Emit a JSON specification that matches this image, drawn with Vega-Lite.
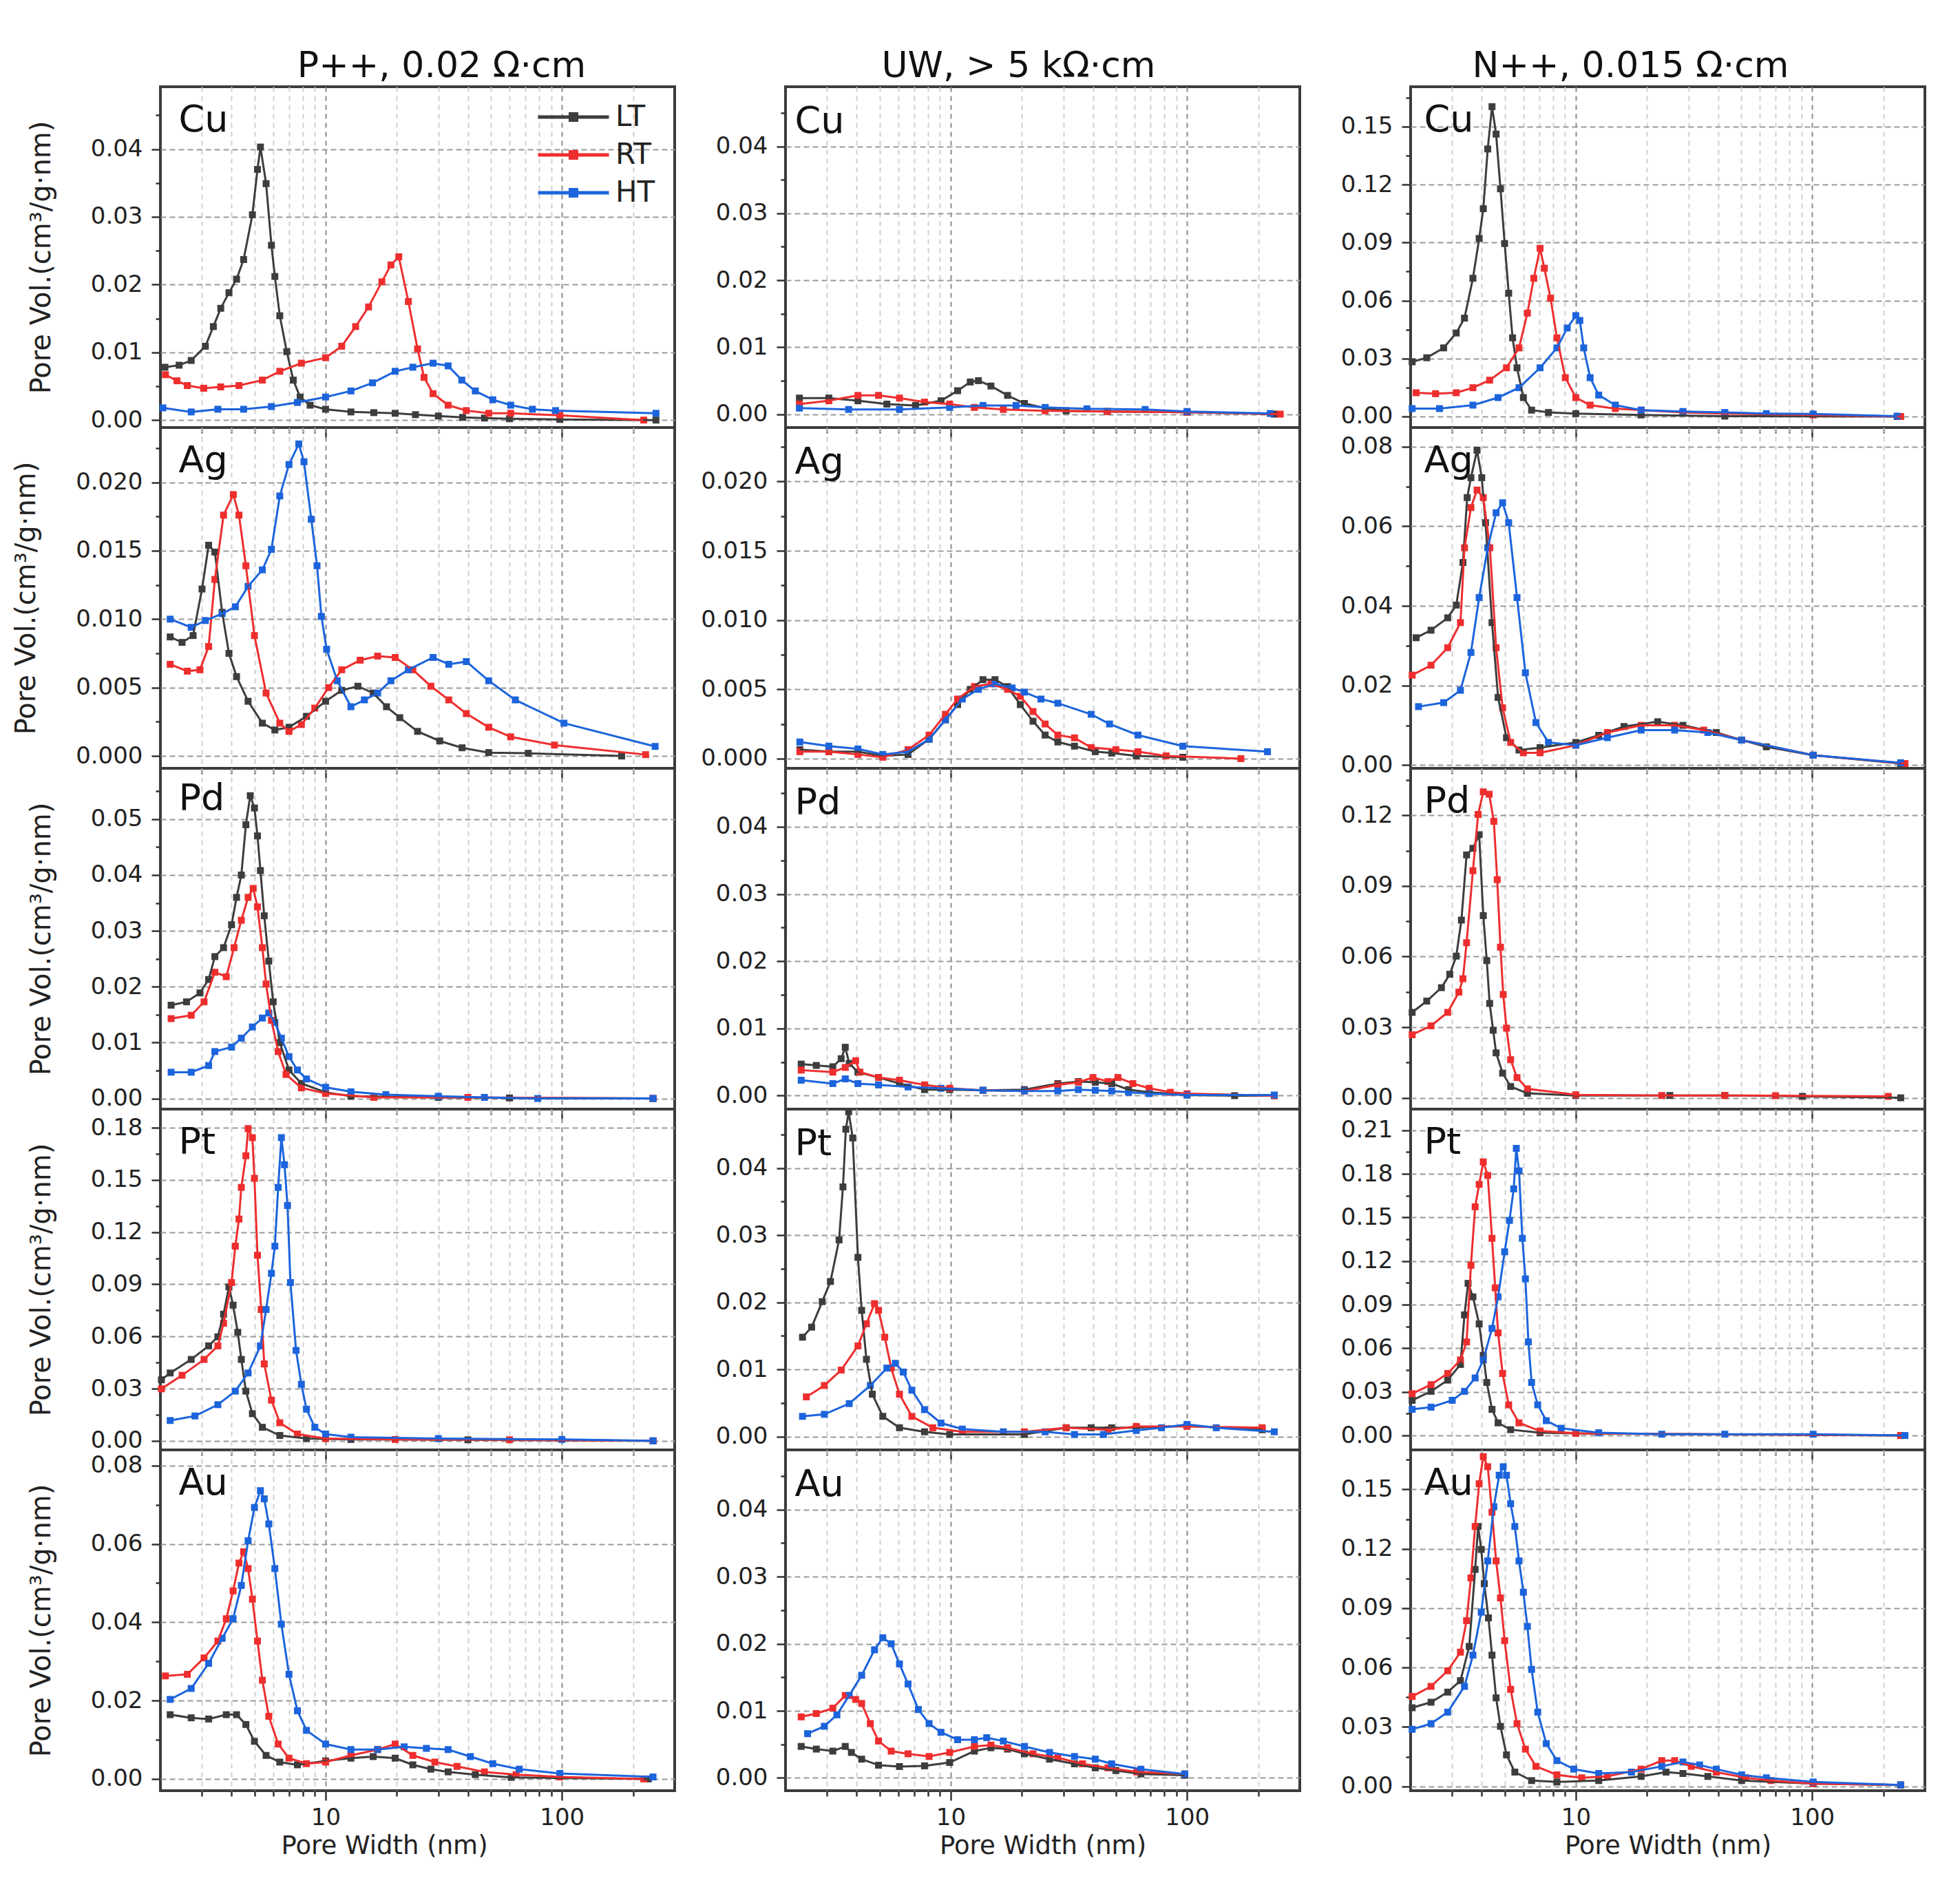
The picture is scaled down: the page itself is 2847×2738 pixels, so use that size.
{
  "$schema": "https://vega.github.io/schema/vega-lite/v6.json",
  "padding": {"left": 16, "top": 68, "right": 5, "bottom": 5},
  "background": "white",
  "config": {
    "font": "DejaVu Sans",
    "view": {"stroke": "#3c3c3c", "strokeWidth": 4},
    "title": {"font": "DejaVu Sans", "fontSize": 52, "fontWeight": "normal", "color": "#111", "offset": 3, "baseline": "alphabetic"},
    "axis": {"domain": false, "grid": true, "tickColor": "#333", "tickWidth": 2.5, "labelFont": "DejaVu Sans", "labelFontSize": 34, "labelColor": "#222", "titleFont": "DejaVu Sans", "titleFontWeight": "normal", "titleColor": "#222"},
    "axisX": {"gridDash": [7, 6], "gridWidth": 2, "labelPadding": 8, "labelFontSize": 34, "titleFontSize": 37, "titlePadding": 6},
    "axisY": {"gridDash": [8, 5], "gridWidth": 2, "gridColor": "#9a9a9a", "labelPadding": 13, "titleFontSize": 40, "titlePadding": 51}
  },
  "datasets": {
    "pts": [
      {"p":"PCu","s":"LT","x":2.09,"y":0.0078},{"p":"PCu","s":"LT","x":2.4,"y":0.0081},{"p":"PCu","s":"LT","x":2.7,"y":0.0088},{"p":"PCu","s":"LT","x":3.1,"y":0.0109},{"p":"PCu","s":"LT","x":3.35,"y":0.0138},{"p":"PCu","s":"LT","x":3.6,"y":0.0165},{"p":"PCu","s":"LT","x":3.9,"y":0.0188},{"p":"PCu","s":"LT","x":4.2,"y":0.0208},{"p":"PCu","s":"LT","x":4.5,"y":0.0237},{"p":"PCu","s":"LT","x":4.9,"y":0.0303},{"p":"PCu","s":"LT","x":5.15,"y":0.037},{"p":"PCu","s":"LT","x":5.3,"y":0.0403},{"p":"PCu","s":"LT","x":5.6,"y":0.0349},{"p":"PCu","s":"LT","x":5.9,"y":0.0258},{"p":"PCu","s":"LT","x":6.1,"y":0.0212},{"p":"PCu","s":"LT","x":6.4,"y":0.0154},{"p":"PCu","s":"LT","x":6.85,"y":0.0101},{"p":"PCu","s":"LT","x":7.3,"y":0.0059},{"p":"PCu","s":"LT","x":7.8,"y":0.0034},{"p":"PCu","s":"LT","x":8.6,"y":0.0022},{"p":"PCu","s":"LT","x":10,"y":0.0016},{"p":"PCu","s":"LT","x":12.8,"y":0.0012},{"p":"PCu","s":"LT","x":16,"y":0.0011},{"p":"PCu","s":"LT","x":19.7,"y":0.001},{"p":"PCu","s":"LT","x":24,"y":0.0008},{"p":"PCu","s":"LT","x":30,"y":0.0006},{"p":"PCu","s":"LT","x":38,"y":0.0004},{"p":"PCu","s":"LT","x":47,"y":0.0003},{"p":"PCu","s":"LT","x":60,"y":0.0002},{"p":"PCu","s":"LT","x":98,"y":0.0001},{"p":"PCu","s":"LT","x":250,"y":0},
      {"p":"PCu","s":"RT","x":2.1,"y":0.0067},{"p":"PCu","s":"RT","x":2.35,"y":0.0058},{"p":"PCu","s":"RT","x":2.6,"y":0.0051},{"p":"PCu","s":"RT","x":3.05,"y":0.0047},{"p":"PCu","s":"RT","x":3.6,"y":0.0049},{"p":"PCu","s":"RT","x":4.3,"y":0.0051},{"p":"PCu","s":"RT","x":5.4,"y":0.0059},{"p":"PCu","s":"RT","x":6.4,"y":0.0072},{"p":"PCu","s":"RT","x":7.9,"y":0.0084},{"p":"PCu","s":"RT","x":10,"y":0.0092},{"p":"PCu","s":"RT","x":11.7,"y":0.0109},{"p":"PCu","s":"RT","x":13.4,"y":0.0138},{"p":"PCu","s":"RT","x":15.2,"y":0.0167},{"p":"PCu","s":"RT","x":17.3,"y":0.0204},{"p":"PCu","s":"RT","x":18.9,"y":0.0229},{"p":"PCu","s":"RT","x":20.4,"y":0.0241},{"p":"PCu","s":"RT","x":22.4,"y":0.0175},{"p":"PCu","s":"RT","x":24.5,"y":0.0105},{"p":"PCu","s":"RT","x":26.1,"y":0.0063},{"p":"PCu","s":"RT","x":28.5,"y":0.0039},{"p":"PCu","s":"RT","x":33,"y":0.0022},{"p":"PCu","s":"RT","x":39.4,"y":0.0014},{"p":"PCu","s":"RT","x":49,"y":0.001},{"p":"PCu","s":"RT","x":60.7,"y":0.001},{"p":"PCu","s":"RT","x":98,"y":0.0007},{"p":"PCu","s":"RT","x":222,"y":0},
      {"p":"PCu","s":"HT","x":2.05,"y":0.0018},{"p":"PCu","s":"HT","x":2.7,"y":0.0012},{"p":"PCu","s":"HT","x":3.5,"y":0.0016},{"p":"PCu","s":"HT","x":4.5,"y":0.0016},{"p":"PCu","s":"HT","x":5.9,"y":0.002},{"p":"PCu","s":"HT","x":7.6,"y":0.0026},{"p":"PCu","s":"HT","x":10,"y":0.0034},{"p":"PCu","s":"HT","x":12.8,"y":0.0043},{"p":"PCu","s":"HT","x":15.8,"y":0.0055},{"p":"PCu","s":"HT","x":19.7,"y":0.0072},{"p":"PCu","s":"HT","x":23.4,"y":0.0078},{"p":"PCu","s":"HT","x":28.5,"y":0.0084},{"p":"PCu","s":"HT","x":33,"y":0.008},{"p":"PCu","s":"HT","x":37.7,"y":0.0059},{"p":"PCu","s":"HT","x":43,"y":0.0043},{"p":"PCu","s":"HT","x":51,"y":0.003},{"p":"PCu","s":"HT","x":60.7,"y":0.0022},{"p":"PCu","s":"HT","x":75,"y":0.0016},{"p":"PCu","s":"HT","x":94,"y":0.0014},{"p":"PCu","s":"HT","x":250,"y":0.001},

      {"p":"PAg","s":"LT","x":2.2,"y":0.0087},{"p":"PAg","s":"LT","x":2.47,"y":0.0083},{"p":"PAg","s":"LT","x":2.75,"y":0.0088},{"p":"PAg","s":"LT","x":3.0,"y":0.0122},{"p":"PAg","s":"LT","x":3.2,"y":0.0154},{"p":"PAg","s":"LT","x":3.4,"y":0.0149},{"p":"PAg","s":"LT","x":3.65,"y":0.0105},{"p":"PAg","s":"LT","x":3.9,"y":0.0075},{"p":"PAg","s":"LT","x":4.2,"y":0.0058},{"p":"PAg","s":"LT","x":4.7,"y":0.004},{"p":"PAg","s":"LT","x":5.4,"y":0.0024},{"p":"PAg","s":"LT","x":6.1,"y":0.0019},{"p":"PAg","s":"LT","x":7.0,"y":0.0021},{"p":"PAg","s":"LT","x":8.3,"y":0.0029},{"p":"PAg","s":"LT","x":10,"y":0.004},{"p":"PAg","s":"LT","x":11.7,"y":0.0048},{"p":"PAg","s":"LT","x":13.7,"y":0.0051},{"p":"PAg","s":"LT","x":15.9,"y":0.0046},{"p":"PAg","s":"LT","x":18.1,"y":0.0036},{"p":"PAg","s":"LT","x":20.6,"y":0.0028},{"p":"PAg","s":"LT","x":24.5,"y":0.0018},{"p":"PAg","s":"LT","x":30.4,"y":0.0011},{"p":"PAg","s":"LT","x":37.8,"y":0.0006},{"p":"PAg","s":"LT","x":49,"y":0.00025},{"p":"PAg","s":"LT","x":72,"y":0.0002},{"p":"PAg","s":"LT","x":179,"y":0},
      {"p":"PAg","s":"RT","x":2.2,"y":0.0067},{"p":"PAg","s":"RT","x":2.6,"y":0.0062},{"p":"PAg","s":"RT","x":2.94,"y":0.0063},{"p":"PAg","s":"RT","x":3.2,"y":0.008},{"p":"PAg","s":"RT","x":3.4,"y":0.0129},{"p":"PAg","s":"RT","x":3.7,"y":0.0176},{"p":"PAg","s":"RT","x":4.07,"y":0.0191},{"p":"PAg","s":"RT","x":4.3,"y":0.0176},{"p":"PAg","s":"RT","x":4.6,"y":0.0139},{"p":"PAg","s":"RT","x":5.0,"y":0.0088},{"p":"PAg","s":"RT","x":5.6,"y":0.0046},{"p":"PAg","s":"RT","x":6.4,"y":0.0024},{"p":"PAg","s":"RT","x":7.0,"y":0.0018},{"p":"PAg","s":"RT","x":7.9,"y":0.0023},{"p":"PAg","s":"RT","x":9.0,"y":0.0035},{"p":"PAg","s":"RT","x":10.3,"y":0.005},{"p":"PAg","s":"RT","x":11.7,"y":0.0063},{"p":"PAg","s":"RT","x":14,"y":0.007},{"p":"PAg","s":"RT","x":16.6,"y":0.0073},{"p":"PAg","s":"RT","x":19.7,"y":0.0072},{"p":"PAg","s":"RT","x":23.4,"y":0.0063},{"p":"PAg","s":"RT","x":27.9,"y":0.0051},{"p":"PAg","s":"RT","x":33.2,"y":0.0041},{"p":"PAg","s":"RT","x":39.4,"y":0.0031},{"p":"PAg","s":"RT","x":49,"y":0.0021},{"p":"PAg","s":"RT","x":60.7,"y":0.0014},{"p":"PAg","s":"RT","x":93,"y":0.0008},{"p":"PAg","s":"RT","x":226,"y":0.0001},
      {"p":"PAg","s":"HT","x":2.2,"y":0.01},{"p":"PAg","s":"HT","x":2.7,"y":0.0094},{"p":"PAg","s":"HT","x":3.1,"y":0.0099},{"p":"PAg","s":"HT","x":3.65,"y":0.0104},{"p":"PAg","s":"HT","x":4.15,"y":0.0109},{"p":"PAg","s":"HT","x":4.7,"y":0.0124},{"p":"PAg","s":"HT","x":5.4,"y":0.0136},{"p":"PAg","s":"HT","x":5.9,"y":0.0151},{"p":"PAg","s":"HT","x":6.4,"y":0.019},{"p":"PAg","s":"HT","x":7.0,"y":0.0213},{"p":"PAg","s":"HT","x":7.7,"y":0.0228},{"p":"PAg","s":"HT","x":8.1,"y":0.0215},{"p":"PAg","s":"HT","x":8.7,"y":0.0173},{"p":"PAg","s":"HT","x":9.2,"y":0.0139},{"p":"PAg","s":"HT","x":9.6,"y":0.0102},{"p":"PAg","s":"HT","x":10.1,"y":0.0078},{"p":"PAg","s":"HT","x":11.2,"y":0.0055},{"p":"PAg","s":"HT","x":12.8,"y":0.0036},{"p":"PAg","s":"HT","x":14.6,"y":0.0041},{"p":"PAg","s":"HT","x":16.6,"y":0.0046},{"p":"PAg","s":"HT","x":18.9,"y":0.0055},{"p":"PAg","s":"HT","x":22.4,"y":0.0063},{"p":"PAg","s":"HT","x":28.5,"y":0.0072},{"p":"PAg","s":"HT","x":33.2,"y":0.0067},{"p":"PAg","s":"HT","x":39.4,"y":0.0069},{"p":"PAg","s":"HT","x":49,"y":0.0055},{"p":"PAg","s":"HT","x":63.5,"y":0.0041},{"p":"PAg","s":"HT","x":102,"y":0.0024},{"p":"PAg","s":"HT","x":248,"y":0.0007},

      {"p":"PPd","s":"LT","x":2.22,"y":0.0167},{"p":"PPd","s":"LT","x":2.58,"y":0.0173},{"p":"PPd","s":"LT","x":2.94,"y":0.0189},{"p":"PPd","s":"LT","x":3.2,"y":0.0213},{"p":"PPd","s":"LT","x":3.4,"y":0.0254},{"p":"PPd","s":"LT","x":3.7,"y":0.027},{"p":"PPd","s":"LT","x":4.0,"y":0.0311},{"p":"PPd","s":"LT","x":4.2,"y":0.036},{"p":"PPd","s":"LT","x":4.4,"y":0.04},{"p":"PPd","s":"LT","x":4.6,"y":0.049},{"p":"PPd","s":"LT","x":4.8,"y":0.0542},{"p":"PPd","s":"LT","x":5.0,"y":0.052},{"p":"PPd","s":"LT","x":5.15,"y":0.047},{"p":"PPd","s":"LT","x":5.3,"y":0.0408},{"p":"PPd","s":"LT","x":5.5,"y":0.0327},{"p":"PPd","s":"LT","x":5.75,"y":0.0246},{"p":"PPd","s":"LT","x":6.0,"y":0.0173},{"p":"PPd","s":"LT","x":6.4,"y":0.01},{"p":"PPd","s":"LT","x":7.0,"y":0.0051},{"p":"PPd","s":"LT","x":7.9,"y":0.0027},{"p":"PPd","s":"LT","x":10,"y":0.0011},{"p":"PPd","s":"LT","x":12.8,"y":0.0004},{"p":"PPd","s":"LT","x":30,"y":0.0002},{"p":"PPd","s":"LT","x":60,"y":0.0001},{"p":"PPd","s":"LT","x":243,"y":0},
      {"p":"PPd","s":"RT","x":2.22,"y":0.0143},{"p":"PPd","s":"RT","x":2.7,"y":0.0149},{"p":"PPd","s":"RT","x":3.06,"y":0.0173},{"p":"PPd","s":"RT","x":3.4,"y":0.0226},{"p":"PPd","s":"RT","x":3.8,"y":0.0218},{"p":"PPd","s":"RT","x":4.1,"y":0.027},{"p":"PPd","s":"RT","x":4.4,"y":0.0319},{"p":"PPd","s":"RT","x":4.7,"y":0.036},{"p":"PPd","s":"RT","x":4.94,"y":0.0376},{"p":"PPd","s":"RT","x":5.15,"y":0.0343},{"p":"PPd","s":"RT","x":5.4,"y":0.027},{"p":"PPd","s":"RT","x":5.6,"y":0.0205},{"p":"PPd","s":"RT","x":5.9,"y":0.014},{"p":"PPd","s":"RT","x":6.3,"y":0.0084},{"p":"PPd","s":"RT","x":6.8,"y":0.0043},{"p":"PPd","s":"RT","x":7.9,"y":0.0019},{"p":"PPd","s":"RT","x":10,"y":0.0009},{"p":"PPd","s":"RT","x":16,"y":0.0002},{"p":"PPd","s":"RT","x":40,"y":0.0002},{"p":"PPd","s":"RT","x":243,"y":0},
      {"p":"PPd","s":"HT","x":2.22,"y":0.0047},{"p":"PPd","s":"HT","x":2.7,"y":0.0047},{"p":"PPd","s":"HT","x":3.2,"y":0.0059},{"p":"PPd","s":"HT","x":3.4,"y":0.0084},{"p":"PPd","s":"HT","x":4.0,"y":0.0092},{"p":"PPd","s":"HT","x":4.4,"y":0.0108},{"p":"PPd","s":"HT","x":4.9,"y":0.0128},{"p":"PPd","s":"HT","x":5.4,"y":0.0144},{"p":"PPd","s":"HT","x":5.75,"y":0.0153},{"p":"PPd","s":"HT","x":6.1,"y":0.0136},{"p":"PPd","s":"HT","x":6.5,"y":0.0108},{"p":"PPd","s":"HT","x":7.0,"y":0.0075},{"p":"PPd","s":"HT","x":7.6,"y":0.0051},{"p":"PPd","s":"HT","x":8.3,"y":0.0035},{"p":"PPd","s":"HT","x":10,"y":0.002},{"p":"PPd","s":"HT","x":12.8,"y":0.0012},{"p":"PPd","s":"HT","x":18,"y":0.0007},{"p":"PPd","s":"HT","x":30,"y":0.0004},{"p":"PPd","s":"HT","x":47,"y":0.0002},{"p":"PPd","s":"HT","x":79,"y":0},{"p":"PPd","s":"HT","x":243,"y":0},

      {"p":"PPt","s":"LT","x":2.02,"y":0.0351},{"p":"PPt","s":"LT","x":2.2,"y":0.039},{"p":"PPt","s":"LT","x":2.7,"y":0.0468},{"p":"PPt","s":"LT","x":3.2,"y":0.0546},{"p":"PPt","s":"LT","x":3.5,"y":0.0598},{"p":"PPt","s":"LT","x":3.7,"y":0.0728},{"p":"PPt","s":"LT","x":3.9,"y":0.0885},{"p":"PPt","s":"LT","x":4.06,"y":0.078},{"p":"PPt","s":"LT","x":4.25,"y":0.0624},{"p":"PPt","s":"LT","x":4.4,"y":0.0468},{"p":"PPt","s":"LT","x":4.6,"y":0.0286},{"p":"PPt","s":"LT","x":4.9,"y":0.0156},{"p":"PPt","s":"LT","x":5.4,"y":0.0078},{"p":"PPt","s":"LT","x":6.4,"y":0.0031},{"p":"PPt","s":"LT","x":8.3,"y":0.0013},{"p":"PPt","s":"LT","x":12.8,"y":0.0008},{"p":"PPt","s":"LT","x":40,"y":0.0006},{"p":"PPt","s":"LT","x":243,"y":0},
      {"p":"PPt","s":"RT","x":2.02,"y":0.0299},{"p":"PPt","s":"RT","x":2.47,"y":0.0377},{"p":"PPt","s":"RT","x":3.06,"y":0.0468},{"p":"PPt","s":"RT","x":3.5,"y":0.0546},{"p":"PPt","s":"RT","x":3.7,"y":0.0676},{"p":"PPt","s":"RT","x":4.0,"y":0.091},{"p":"PPt","s":"RT","x":4.15,"y":0.1119},{"p":"PPt","s":"RT","x":4.3,"y":0.1275},{"p":"PPt","s":"RT","x":4.4,"y":0.1457},{"p":"PPt","s":"RT","x":4.6,"y":0.1639},{"p":"PPt","s":"RT","x":4.7,"y":0.1795},{"p":"PPt","s":"RT","x":4.9,"y":0.1743},{"p":"PPt","s":"RT","x":5.0,"y":0.1509},{"p":"PPt","s":"RT","x":5.15,"y":0.1067},{"p":"PPt","s":"RT","x":5.34,"y":0.0755},{"p":"PPt","s":"RT","x":5.5,"y":0.0442},{"p":"PPt","s":"RT","x":5.9,"y":0.0234},{"p":"PPt","s":"RT","x":6.4,"y":0.0104},{"p":"PPt","s":"RT","x":7.6,"y":0.0039},{"p":"PPt","s":"RT","x":10,"y":0.0013},{"p":"PPt","s":"RT","x":19.7,"y":0.0008},{"p":"PPt","s":"RT","x":60,"y":0.0006},{"p":"PPt","s":"RT","x":243,"y":0},
      {"p":"PPt","s":"HT","x":2.2,"y":0.0117},{"p":"PPt","s":"HT","x":2.8,"y":0.0143},{"p":"PPt","s":"HT","x":3.5,"y":0.0208},{"p":"PPt","s":"HT","x":4.15,"y":0.0286},{"p":"PPt","s":"HT","x":4.7,"y":0.039},{"p":"PPt","s":"HT","x":5.3,"y":0.0546},{"p":"PPt","s":"HT","x":5.6,"y":0.0755},{"p":"PPt","s":"HT","x":5.9,"y":0.0963},{"p":"PPt","s":"HT","x":6.1,"y":0.1119},{"p":"PPt","s":"HT","x":6.3,"y":0.1457},{"p":"PPt","s":"HT","x":6.5,"y":0.1743},{"p":"PPt","s":"HT","x":6.7,"y":0.1587},{"p":"PPt","s":"HT","x":6.9,"y":0.1353},{"p":"PPt","s":"HT","x":7.1,"y":0.091},{"p":"PPt","s":"HT","x":7.5,"y":0.052},{"p":"PPt","s":"HT","x":7.9,"y":0.0325},{"p":"PPt","s":"HT","x":8.3,"y":0.0182},{"p":"PPt","s":"HT","x":9.0,"y":0.0078},{"p":"PPt","s":"HT","x":10,"y":0.0039},{"p":"PPt","s":"HT","x":12.8,"y":0.0021},{"p":"PPt","s":"HT","x":30,"y":0.0013},{"p":"PPt","s":"HT","x":100,"y":0.0008},{"p":"PPt","s":"HT","x":243,"y":0},

      {"p":"PAu","s":"LT","x":2.2,"y":0.0164},{"p":"PAu","s":"LT","x":2.7,"y":0.0156},{"p":"PAu","s":"LT","x":3.2,"y":0.0153},{"p":"PAu","s":"LT","x":3.8,"y":0.0164},{"p":"PAu","s":"LT","x":4.2,"y":0.0164},{"p":"PAu","s":"LT","x":4.6,"y":0.0139},{"p":"PAu","s":"LT","x":5.0,"y":0.0096},{"p":"PAu","s":"LT","x":5.6,"y":0.006},{"p":"PAu","s":"LT","x":6.4,"y":0.0043},{"p":"PAu","s":"LT","x":7.6,"y":0.0036},{"p":"PAu","s":"LT","x":10,"y":0.0046},{"p":"PAu","s":"LT","x":12.8,"y":0.0053},{"p":"PAu","s":"LT","x":15.9,"y":0.0057},{"p":"PAu","s":"LT","x":19.7,"y":0.0053},{"p":"PAu","s":"LT","x":23.4,"y":0.0036},{"p":"PAu","s":"LT","x":27.9,"y":0.0025},{"p":"PAu","s":"LT","x":33,"y":0.0018},{"p":"PAu","s":"LT","x":43,"y":0.0011},{"p":"PAu","s":"LT","x":61,"y":0.0004},{"p":"PAu","s":"LT","x":232,"y":0},
      {"p":"PAu","s":"RT","x":2.1,"y":0.0263},{"p":"PAu","s":"RT","x":2.6,"y":0.0267},{"p":"PAu","s":"RT","x":3.06,"y":0.0309},{"p":"PAu","s":"RT","x":3.5,"y":0.0352},{"p":"PAu","s":"RT","x":3.8,"y":0.0409},{"p":"PAu","s":"RT","x":4.06,"y":0.048},{"p":"PAu","s":"RT","x":4.3,"y":0.0551},{"p":"PAu","s":"RT","x":4.5,"y":0.058},{"p":"PAu","s":"RT","x":4.7,"y":0.0537},{"p":"PAu","s":"RT","x":4.9,"y":0.0459},{"p":"PAu","s":"RT","x":5.15,"y":0.0352},{"p":"PAu","s":"RT","x":5.4,"y":0.0252},{"p":"PAu","s":"RT","x":5.75,"y":0.016},{"p":"PAu","s":"RT","x":6.3,"y":0.0089},{"p":"PAu","s":"RT","x":7.0,"y":0.0053},{"p":"PAu","s":"RT","x":8.3,"y":0.0039},{"p":"PAu","s":"RT","x":10,"y":0.0043},{"p":"PAu","s":"RT","x":12.8,"y":0.006},{"p":"PAu","s":"RT","x":16.6,"y":0.0075},{"p":"PAu","s":"RT","x":19.7,"y":0.0089},{"p":"PAu","s":"RT","x":23.4,"y":0.006},{"p":"PAu","s":"RT","x":29,"y":0.0043},{"p":"PAu","s":"RT","x":36,"y":0.0032},{"p":"PAu","s":"RT","x":47,"y":0.0018},{"p":"PAu","s":"RT","x":64,"y":0.0011},{"p":"PAu","s":"RT","x":98,"y":0.0005},{"p":"PAu","s":"RT","x":222,"y":0},
      {"p":"PAu","s":"HT","x":2.2,"y":0.0203},{"p":"PAu","s":"HT","x":2.7,"y":0.0231},{"p":"PAu","s":"HT","x":3.2,"y":0.0295},{"p":"PAu","s":"HT","x":3.65,"y":0.0359},{"p":"PAu","s":"HT","x":4.06,"y":0.0409},{"p":"PAu","s":"HT","x":4.4,"y":0.0494},{"p":"PAu","s":"HT","x":4.7,"y":0.0608},{"p":"PAu","s":"HT","x":5.0,"y":0.0693},{"p":"PAu","s":"HT","x":5.3,"y":0.0736},{"p":"PAu","s":"HT","x":5.5,"y":0.0715},{"p":"PAu","s":"HT","x":5.75,"y":0.0651},{"p":"PAu","s":"HT","x":6.1,"y":0.0537},{"p":"PAu","s":"HT","x":6.5,"y":0.0395},{"p":"PAu","s":"HT","x":7.0,"y":0.0267},{"p":"PAu","s":"HT","x":7.6,"y":0.0174},{"p":"PAu","s":"HT","x":8.3,"y":0.0124},{"p":"PAu","s":"HT","x":10,"y":0.0089},{"p":"PAu","s":"HT","x":12.8,"y":0.0075},{"p":"PAu","s":"HT","x":16.6,"y":0.0075},{"p":"PAu","s":"HT","x":21.5,"y":0.0082},{"p":"PAu","s":"HT","x":26.7,"y":0.0078},{"p":"PAu","s":"HT","x":33,"y":0.0075},{"p":"PAu","s":"HT","x":41,"y":0.0057},{"p":"PAu","s":"HT","x":51,"y":0.0039},{"p":"PAu","s":"HT","x":66,"y":0.0025},{"p":"PAu","s":"HT","x":98,"y":0.0014},{"p":"PAu","s":"HT","x":243,"y":0.0005},

      {"p":"UCu","s":"LT","x":2.29,"y":0.0024},{"p":"UCu","s":"LT","x":3.05,"y":0.0024},{"p":"UCu","s":"LT","x":4.05,"y":0.002},{"p":"UCu","s":"LT","x":5.37,"y":0.0015},{"p":"UCu","s":"LT","x":7.1,"y":0.0013},{"p":"UCu","s":"LT","x":9.1,"y":0.002},{"p":"UCu","s":"LT","x":10.7,"y":0.0035},{"p":"UCu","s":"LT","x":12.1,"y":0.0048},{"p":"UCu","s":"LT","x":13.1,"y":0.005},{"p":"UCu","s":"LT","x":14.8,"y":0.0042},{"p":"UCu","s":"LT","x":17.4,"y":0.0028},{"p":"UCu","s":"LT","x":20.5,"y":0.0016},{"p":"UCu","s":"LT","x":25.1,"y":0.0009},{"p":"UCu","s":"LT","x":30.8,"y":0.0005},{"p":"UCu","s":"LT","x":46,"y":0.0004},{"p":"UCu","s":"LT","x":100,"y":0.0003},{"p":"UCu","s":"LT","x":234,"y":0},
      {"p":"UCu","s":"RT","x":2.29,"y":0.0015},{"p":"UCu","s":"RT","x":3.05,"y":0.002},{"p":"UCu","s":"RT","x":4.05,"y":0.0028},{"p":"UCu","s":"RT","x":4.95,"y":0.0028},{"p":"UCu","s":"RT","x":6.07,"y":0.0024},{"p":"UCu","s":"RT","x":7.75,"y":0.0018},{"p":"UCu","s":"RT","x":9.9,"y":0.0015},{"p":"UCu","s":"RT","x":12.6,"y":0.001},{"p":"UCu","s":"RT","x":16.7,"y":0.0007},{"p":"UCu","s":"RT","x":25.1,"y":0.0005},{"p":"UCu","s":"RT","x":46,"y":0.0004},{"p":"UCu","s":"RT","x":100,"y":0.0003},{"p":"UCu","s":"RT","x":248,"y":0},
      {"p":"UCu","s":"HT","x":2.29,"y":0.0009},{"p":"UCu","s":"HT","x":3.7,"y":0.0007},{"p":"UCu","s":"HT","x":6.07,"y":0.0007},{"p":"UCu","s":"HT","x":9.9,"y":0.001},{"p":"UCu","s":"HT","x":13.7,"y":0.0013},{"p":"UCu","s":"HT","x":18.9,"y":0.0013},{"p":"UCu","s":"HT","x":25.1,"y":0.001},{"p":"UCu","s":"HT","x":37.7,"y":0.0008},{"p":"UCu","s":"HT","x":66.5,"y":0.0007},{"p":"UCu","s":"HT","x":100,"y":0.0004},{"p":"UCu","s":"HT","x":225,"y":0.0001},

      {"p":"UAg","s":"LT","x":2.3,"y":0.00065},{"p":"UAg","s":"LT","x":3.05,"y":0.0005},{"p":"UAg","s":"LT","x":4.05,"y":0.0005},{"p":"UAg","s":"LT","x":5.16,"y":0.0002},{"p":"UAg","s":"LT","x":6.6,"y":0.0003},{"p":"UAg","s":"LT","x":8.1,"y":0.0014},{"p":"UAg","s":"LT","x":9.5,"y":0.0028},{"p":"UAg","s":"LT","x":10.7,"y":0.0039},{"p":"UAg","s":"LT","x":12.1,"y":0.005},{"p":"UAg","s":"LT","x":13.7,"y":0.0057},{"p":"UAg","s":"LT","x":15.4,"y":0.0057},{"p":"UAg","s":"LT","x":17.4,"y":0.0052},{"p":"UAg","s":"LT","x":19.7,"y":0.0039},{"p":"UAg","s":"LT","x":22.3,"y":0.0027},{"p":"UAg","s":"LT","x":25.1,"y":0.0017},{"p":"UAg","s":"LT","x":28.4,"y":0.0012},{"p":"UAg","s":"LT","x":33.4,"y":0.0009},{"p":"UAg","s":"LT","x":40.9,"y":0.0005},{"p":"UAg","s":"LT","x":48,"y":0.0004},{"p":"UAg","s":"LT","x":61,"y":0.0002},{"p":"UAg","s":"LT","x":96,"y":0.0001},
      {"p":"UAg","s":"RT","x":2.3,"y":0.0005},{"p":"UAg","s":"RT","x":3.05,"y":0.0005},{"p":"UAg","s":"RT","x":4.05,"y":0.0003},{"p":"UAg","s":"RT","x":5.16,"y":0.0001},{"p":"UAg","s":"RT","x":6.6,"y":0.00065},{"p":"UAg","s":"RT","x":8.1,"y":0.0017},{"p":"UAg","s":"RT","x":9.5,"y":0.0032},{"p":"UAg","s":"RT","x":10.7,"y":0.0043},{"p":"UAg","s":"RT","x":12.6,"y":0.0052},{"p":"UAg","s":"RT","x":14.8,"y":0.0054},{"p":"UAg","s":"RT","x":17.4,"y":0.005},{"p":"UAg","s":"RT","x":19.7,"y":0.0045},{"p":"UAg","s":"RT","x":22.3,"y":0.0034},{"p":"UAg","s":"RT","x":25.1,"y":0.0025},{"p":"UAg","s":"RT","x":28.4,"y":0.0017},{"p":"UAg","s":"RT","x":33.4,"y":0.0015},{"p":"UAg","s":"RT","x":39.3,"y":0.0008},{"p":"UAg","s":"RT","x":50,"y":0.00065},{"p":"UAg","s":"RT","x":62,"y":0.0005},{"p":"UAg","s":"RT","x":81.6,"y":0.0002},{"p":"UAg","s":"RT","x":169,"y":0},
      {"p":"UAg","s":"HT","x":2.3,"y":0.0012},{"p":"UAg","s":"HT","x":3.05,"y":0.0009},{"p":"UAg","s":"HT","x":4.05,"y":0.0007},{"p":"UAg","s":"HT","x":5.16,"y":0.0003},{"p":"UAg","s":"HT","x":6.6,"y":0.0005},{"p":"UAg","s":"HT","x":8.1,"y":0.0014},{"p":"UAg","s":"HT","x":9.5,"y":0.0028},{"p":"UAg","s":"HT","x":11.2,"y":0.0043},{"p":"UAg","s":"HT","x":13.1,"y":0.005},{"p":"UAg","s":"HT","x":15.4,"y":0.0054},{"p":"UAg","s":"HT","x":18.2,"y":0.0051},{"p":"UAg","s":"HT","x":20.5,"y":0.0048},{"p":"UAg","s":"HT","x":24.1,"y":0.0043},{"p":"UAg","s":"HT","x":28.4,"y":0.004},{"p":"UAg","s":"HT","x":39.3,"y":0.0032},{"p":"UAg","s":"HT","x":47,"y":0.0025},{"p":"UAg","s":"HT","x":62,"y":0.0017},{"p":"UAg","s":"HT","x":96,"y":0.0009},{"p":"UAg","s":"HT","x":219,"y":0.0005},

      {"p":"UPd","s":"LT","x":2.33,"y":0.0047},{"p":"UPd","s":"LT","x":2.7,"y":0.0045},{"p":"UPd","s":"LT","x":3.17,"y":0.0043},{"p":"UPd","s":"LT","x":3.44,"y":0.0055},{"p":"UPd","s":"LT","x":3.58,"y":0.0072},{"p":"UPd","s":"LT","x":3.72,"y":0.0048},{"p":"UPd","s":"LT","x":4.05,"y":0.0035},{"p":"UPd","s":"LT","x":4.95,"y":0.0027},{"p":"UPd","s":"LT","x":6.07,"y":0.0018},{"p":"UPd","s":"LT","x":7.75,"y":0.0009},{"p":"UPd","s":"LT","x":9.9,"y":0.0009},{"p":"UPd","s":"LT","x":13.7,"y":0.0008},{"p":"UPd","s":"LT","x":20.5,"y":0.0009},{"p":"UPd","s":"LT","x":28.4,"y":0.0018},{"p":"UPd","s":"LT","x":34.7,"y":0.0021},{"p":"UPd","s":"LT","x":40.9,"y":0.002},{"p":"UPd","s":"LT","x":48,"y":0.0018},{"p":"UPd","s":"LT","x":56.6,"y":0.0009},{"p":"UPd","s":"LT","x":69.2,"y":0.0005},{"p":"UPd","s":"LT","x":100,"y":0.0001},{"p":"UPd","s":"LT","x":159,"y":0},{"p":"UPd","s":"LT","x":234,"y":0},
      {"p":"UPd","s":"RT","x":2.33,"y":0.0038},{"p":"UPd","s":"RT","x":3.17,"y":0.0035},{"p":"UPd","s":"RT","x":3.58,"y":0.0042},{"p":"UPd","s":"RT","x":3.96,"y":0.0052},{"p":"UPd","s":"RT","x":4.13,"y":0.0035},{"p":"UPd","s":"RT","x":4.95,"y":0.0027},{"p":"UPd","s":"RT","x":6.07,"y":0.0023},{"p":"UPd","s":"RT","x":7.75,"y":0.0016},{"p":"UPd","s":"RT","x":9.9,"y":0.0011},{"p":"UPd","s":"RT","x":13.7,"y":0.0008},{"p":"UPd","s":"RT","x":20.5,"y":0.0007},{"p":"UPd","s":"RT","x":28.4,"y":0.0016},{"p":"UPd","s":"RT","x":34.7,"y":0.002},{"p":"UPd","s":"RT","x":40,"y":0.0027},{"p":"UPd","s":"RT","x":46.3,"y":0.0021},{"p":"UPd","s":"RT","x":51,"y":0.0027},{"p":"UPd","s":"RT","x":59,"y":0.0018},{"p":"UPd","s":"RT","x":69.2,"y":0.0011},{"p":"UPd","s":"RT","x":85,"y":0.0005},{"p":"UPd","s":"RT","x":100,"y":0.0003},{"p":"UPd","s":"RT","x":234,"y":0},
      {"p":"UPd","s":"HT","x":2.33,"y":0.0023},{"p":"UPd","s":"HT","x":3.17,"y":0.0018},{"p":"UPd","s":"HT","x":3.58,"y":0.0025},{"p":"UPd","s":"HT","x":4.05,"y":0.0018},{"p":"UPd","s":"HT","x":4.95,"y":0.0016},{"p":"UPd","s":"HT","x":6.6,"y":0.0013},{"p":"UPd","s":"HT","x":9.1,"y":0.0011},{"p":"UPd","s":"HT","x":13.7,"y":0.0008},{"p":"UPd","s":"HT","x":20.5,"y":0.0007},{"p":"UPd","s":"HT","x":28.4,"y":0.0007},{"p":"UPd","s":"HT","x":34.7,"y":0.0009},{"p":"UPd","s":"HT","x":40.9,"y":0.0008},{"p":"UPd","s":"HT","x":48,"y":0.0007},{"p":"UPd","s":"HT","x":56.6,"y":0.0005},{"p":"UPd","s":"HT","x":69.2,"y":0.0003},{"p":"UPd","s":"HT","x":100,"y":0.0001},{"p":"UPd","s":"HT","x":234,"y":0.0001},

      {"p":"UPt","s":"LT","x":2.36,"y":0.0148},{"p":"UPt","s":"LT","x":2.58,"y":0.0163},{"p":"UPt","s":"LT","x":2.86,"y":0.0201},{"p":"UPt","s":"LT","x":3.1,"y":0.0231},{"p":"UPt","s":"LT","x":3.37,"y":0.0293},{"p":"UPt","s":"LT","x":3.5,"y":0.0372},{"p":"UPt","s":"LT","x":3.6,"y":0.0458},{"p":"UPt","s":"LT","x":3.7,"y":0.0484},{"p":"UPt","s":"LT","x":3.85,"y":0.0445},{"p":"UPt","s":"LT","x":4.05,"y":0.0267},{"p":"UPt","s":"LT","x":4.2,"y":0.0188},{"p":"UPt","s":"LT","x":4.4,"y":0.0115},{"p":"UPt","s":"LT","x":4.66,"y":0.0063},{"p":"UPt","s":"LT","x":5.16,"y":0.003},{"p":"UPt","s":"LT","x":6.07,"y":0.0013},{"p":"UPt","s":"LT","x":7.75,"y":0.0007},{"p":"UPt","s":"LT","x":9.9,"y":0.0003},{"p":"UPt","s":"LT","x":20.5,"y":0.0003},{"p":"UPt","s":"LT","x":30.8,"y":0.0013},{"p":"UPt","s":"LT","x":39.3,"y":0.0013},{"p":"UPt","s":"LT","x":48,"y":0.0013},{"p":"UPt","s":"LT","x":61,"y":0.0013},{"p":"UPt","s":"LT","x":100,"y":0.0016},{"p":"UPt","s":"LT","x":208,"y":0.001},
      {"p":"UPt","s":"RT","x":2.45,"y":0.0059},{"p":"UPt","s":"RT","x":2.92,"y":0.0076},{"p":"UPt","s":"RT","x":3.44,"y":0.0099},{"p":"UPt","s":"RT","x":4.05,"y":0.0135},{"p":"UPt","s":"RT","x":4.4,"y":0.0168},{"p":"UPt","s":"RT","x":4.76,"y":0.0198},{"p":"UPt","s":"RT","x":4.95,"y":0.0188},{"p":"UPt","s":"RT","x":5.26,"y":0.0148},{"p":"UPt","s":"RT","x":5.6,"y":0.0102},{"p":"UPt","s":"RT","x":6.07,"y":0.0063},{"p":"UPt","s":"RT","x":6.85,"y":0.003},{"p":"UPt","s":"RT","x":8.4,"y":0.0013},{"p":"UPt","s":"RT","x":11.2,"y":0.0007},{"p":"UPt","s":"RT","x":20.5,"y":0.0007},{"p":"UPt","s":"RT","x":30.8,"y":0.0013},{"p":"UPt","s":"RT","x":46.3,"y":0.001},{"p":"UPt","s":"RT","x":61,"y":0.0015},{"p":"UPt","s":"RT","x":100,"y":0.0015},{"p":"UPt","s":"RT","x":208,"y":0.0013},
      {"p":"UPt","s":"HT","x":2.36,"y":0.003},{"p":"UPt","s":"HT","x":2.92,"y":0.0033},{"p":"UPt","s":"HT","x":3.72,"y":0.0049},{"p":"UPt","s":"HT","x":4.57,"y":0.0076},{"p":"UPt","s":"HT","x":5.37,"y":0.0102},{"p":"UPt","s":"HT","x":5.83,"y":0.0109},{"p":"UPt","s":"HT","x":6.3,"y":0.0096},{"p":"UPt","s":"HT","x":6.85,"y":0.0069},{"p":"UPt","s":"HT","x":7.75,"y":0.004},{"p":"UPt","s":"HT","x":9.1,"y":0.002},{"p":"UPt","s":"HT","x":11.2,"y":0.0011},{"p":"UPt","s":"HT","x":16.7,"y":0.0007},{"p":"UPt","s":"HT","x":25.1,"y":0.0007},{"p":"UPt","s":"HT","x":33.4,"y":0.0003},{"p":"UPt","s":"HT","x":44.3,"y":0.0003},{"p":"UPt","s":"HT","x":61,"y":0.0009},{"p":"UPt","s":"HT","x":78,"y":0.0013},{"p":"UPt","s":"HT","x":100,"y":0.0018},{"p":"UPt","s":"HT","x":133,"y":0.0013},{"p":"UPt","s":"HT","x":234,"y":0.0007},

      {"p":"UAu","s":"LT","x":2.33,"y":0.0047},{"p":"UAu","s":"LT","x":2.7,"y":0.0043},{"p":"UAu","s":"LT","x":3.17,"y":0.004},{"p":"UAu","s":"LT","x":3.58,"y":0.0047},{"p":"UAu","s":"LT","x":3.8,"y":0.0038},{"p":"UAu","s":"LT","x":4.2,"y":0.0028},{"p":"UAu","s":"LT","x":4.95,"y":0.0019},{"p":"UAu","s":"LT","x":6.07,"y":0.0017},{"p":"UAu","s":"LT","x":7.75,"y":0.0018},{"p":"UAu","s":"LT","x":9.9,"y":0.0023},{"p":"UAu","s":"LT","x":12.6,"y":0.004},{"p":"UAu","s":"LT","x":14.8,"y":0.0045},{"p":"UAu","s":"LT","x":17.4,"y":0.0043},{"p":"UAu","s":"LT","x":20.5,"y":0.0036},{"p":"UAu","s":"LT","x":26.2,"y":0.0028},{"p":"UAu","s":"LT","x":33.4,"y":0.0021},{"p":"UAu","s":"LT","x":40.9,"y":0.0015},{"p":"UAu","s":"LT","x":50,"y":0.0011},{"p":"UAu","s":"LT","x":63.8,"y":0.0006},{"p":"UAu","s":"LT","x":97.8,"y":0.0004},
      {"p":"UAu","s":"RT","x":2.33,"y":0.0091},{"p":"UAu","s":"RT","x":2.7,"y":0.0096},{"p":"UAu","s":"RT","x":3.17,"y":0.0104},{"p":"UAu","s":"RT","x":3.58,"y":0.0123},{"p":"UAu","s":"RT","x":3.96,"y":0.0117},{"p":"UAu","s":"RT","x":4.2,"y":0.0111},{"p":"UAu","s":"RT","x":4.57,"y":0.0081},{"p":"UAu","s":"RT","x":4.95,"y":0.0055},{"p":"UAu","s":"RT","x":5.6,"y":0.004},{"p":"UAu","s":"RT","x":6.6,"y":0.0036},{"p":"UAu","s":"RT","x":8.1,"y":0.0032},{"p":"UAu","s":"RT","x":9.9,"y":0.0038},{"p":"UAu","s":"RT","x":12.6,"y":0.0047},{"p":"UAu","s":"RT","x":14.8,"y":0.0049},{"p":"UAu","s":"RT","x":17.4,"y":0.0045},{"p":"UAu","s":"RT","x":22.3,"y":0.0036},{"p":"UAu","s":"RT","x":28.4,"y":0.003},{"p":"UAu","s":"RT","x":36.1,"y":0.0021},{"p":"UAu","s":"RT","x":46.3,"y":0.0015},{"p":"UAu","s":"RT","x":61.3,"y":0.0009},{"p":"UAu","s":"RT","x":97.8,"y":0.0006},
      {"p":"UAu","s":"HT","x":2.48,"y":0.0066},{"p":"UAu","s":"HT","x":2.92,"y":0.0077},{"p":"UAu","s":"HT","x":3.3,"y":0.0094},{"p":"UAu","s":"HT","x":3.72,"y":0.0123},{"p":"UAu","s":"HT","x":4.2,"y":0.0153},{"p":"UAu","s":"HT","x":4.76,"y":0.0191},{"p":"UAu","s":"HT","x":5.16,"y":0.0209},{"p":"UAu","s":"HT","x":5.6,"y":0.02},{"p":"UAu","s":"HT","x":6.07,"y":0.017},{"p":"UAu","s":"HT","x":6.6,"y":0.014},{"p":"UAu","s":"HT","x":7.3,"y":0.0102},{"p":"UAu","s":"HT","x":8.1,"y":0.0081},{"p":"UAu","s":"HT","x":9.1,"y":0.0068},{"p":"UAu","s":"HT","x":10.7,"y":0.0057},{"p":"UAu","s":"HT","x":12.6,"y":0.0057},{"p":"UAu","s":"HT","x":14.2,"y":0.006},{"p":"UAu","s":"HT","x":16.7,"y":0.0055},{"p":"UAu","s":"HT","x":20.5,"y":0.0047},{"p":"UAu","s":"HT","x":26.2,"y":0.0038},{"p":"UAu","s":"HT","x":33.4,"y":0.0032},{"p":"UAu","s":"HT","x":40.9,"y":0.0028},{"p":"UAu","s":"HT","x":48,"y":0.0021},{"p":"UAu","s":"HT","x":63.8,"y":0.0013},{"p":"UAu","s":"HT","x":97.8,"y":0.0006},

      {"p":"NCu","s":"LT","x":2.03,"y":0.0283},{"p":"NCu","s":"LT","x":2.34,"y":0.0304},{"p":"NCu","s":"LT","x":2.76,"y":0.0355},{"p":"NCu","s":"LT","x":3.12,"y":0.0432},{"p":"NCu","s":"LT","x":3.38,"y":0.0509},{"p":"NCu","s":"LT","x":3.67,"y":0.0715},{"p":"NCu","s":"LT","x":3.9,"y":0.0921},{"p":"NCu","s":"LT","x":4.06,"y":0.1075},{"p":"NCu","s":"LT","x":4.24,"y":0.1384},{"p":"NCu","s":"LT","x":4.42,"y":0.1603},{"p":"NCu","s":"LT","x":4.6,"y":0.1461},{"p":"NCu","s":"LT","x":4.8,"y":0.1178},{"p":"NCu","s":"LT","x":5.0,"y":0.0895},{"p":"NCu","s":"LT","x":5.2,"y":0.0638},{"p":"NCu","s":"LT","x":5.4,"y":0.0407},{"p":"NCu","s":"LT","x":5.64,"y":0.0252},{"p":"NCu","s":"LT","x":6.0,"y":0.0098},{"p":"NCu","s":"LT","x":6.5,"y":0.0033},{"p":"NCu","s":"LT","x":7.66,"y":0.0021},{"p":"NCu","s":"LT","x":10,"y":0.0015},{"p":"NCu","s":"LT","x":18.9,"y":0.0008},{"p":"NCu","s":"LT","x":42.7,"y":0.0002},{"p":"NCu","s":"LT","x":229,"y":0},
      {"p":"NCu","s":"RT","x":2.11,"y":0.0123},{"p":"NCu","s":"RT","x":2.55,"y":0.0118},{"p":"NCu","s":"RT","x":3.12,"y":0.0123},{"p":"NCu","s":"RT","x":3.67,"y":0.0149},{"p":"NCu","s":"RT","x":4.32,"y":0.0188},{"p":"NCu","s":"RT","x":5.09,"y":0.0252},{"p":"NCu","s":"RT","x":5.75,"y":0.0355},{"p":"NCu","s":"RT","x":6.24,"y":0.0535},{"p":"NCu","s":"RT","x":6.64,"y":0.0715},{"p":"NCu","s":"RT","x":7.06,"y":0.087},{"p":"NCu","s":"RT","x":7.36,"y":0.0767},{"p":"NCu","s":"RT","x":7.82,"y":0.0612},{"p":"NCu","s":"RT","x":8.32,"y":0.0407},{"p":"NCu","s":"RT","x":9.03,"y":0.0201},{"p":"NCu","s":"RT","x":10,"y":0.0098},{"p":"NCu","s":"RT","x":11.5,"y":0.0059},{"p":"NCu","s":"RT","x":14.7,"y":0.0041},{"p":"NCu","s":"RT","x":18.9,"y":0.0033},{"p":"NCu","s":"RT","x":28.4,"y":0.0021},{"p":"NCu","s":"RT","x":42.7,"y":0.0015},{"p":"NCu","s":"RT","x":101,"y":0.0008},{"p":"NCu","s":"RT","x":237,"y":0},
      {"p":"NCu","s":"HT","x":2.03,"y":0.0041},{"p":"NCu","s":"HT","x":2.65,"y":0.0041},{"p":"NCu","s":"HT","x":3.67,"y":0.0059},{"p":"NCu","s":"HT","x":4.69,"y":0.0098},{"p":"NCu","s":"HT","x":5.75,"y":0.0149},{"p":"NCu","s":"HT","x":7.06,"y":0.0252},{"p":"NCu","s":"HT","x":8.32,"y":0.0355},{"p":"NCu","s":"HT","x":9.2,"y":0.0458},{"p":"NCu","s":"HT","x":10,"y":0.0522},{"p":"NCu","s":"HT","x":10.4,"y":0.0497},{"p":"NCu","s":"HT","x":10.8,"y":0.0355},{"p":"NCu","s":"HT","x":11.5,"y":0.0201},{"p":"NCu","s":"HT","x":12.5,"y":0.0111},{"p":"NCu","s":"HT","x":14.7,"y":0.0059},{"p":"NCu","s":"HT","x":18.9,"y":0.0033},{"p":"NCu","s":"HT","x":28.4,"y":0.0026},{"p":"NCu","s":"HT","x":42.7,"y":0.0021},{"p":"NCu","s":"HT","x":64,"y":0.0015},{"p":"NCu","s":"HT","x":101,"y":0.0013},{"p":"NCu","s":"HT","x":229,"y":0.0002},

      {"p":"NAg","s":"LT","x":2.11,"y":0.032},{"p":"NAg","s":"LT","x":2.44,"y":0.0339},{"p":"NAg","s":"LT","x":2.87,"y":0.037},{"p":"NAg","s":"LT","x":3.12,"y":0.0402},{"p":"NAg","s":"LT","x":3.33,"y":0.0509},{"p":"NAg","s":"LT","x":3.47,"y":0.0672},{"p":"NAg","s":"LT","x":3.6,"y":0.0722},{"p":"NAg","s":"LT","x":3.82,"y":0.0791},{"p":"NAg","s":"LT","x":4.0,"y":0.0722},{"p":"NAg","s":"LT","x":4.15,"y":0.0609},{"p":"NAg","s":"LT","x":4.42,"y":0.0358},{"p":"NAg","s":"LT","x":4.69,"y":0.017},{"p":"NAg","s":"LT","x":5.09,"y":0.0069},{"p":"NAg","s":"LT","x":5.75,"y":0.0038},{"p":"NAg","s":"LT","x":7.06,"y":0.0044},{"p":"NAg","s":"LT","x":10,"y":0.0057},{"p":"NAg","s":"LT","x":12.5,"y":0.0075},{"p":"NAg","s":"LT","x":16,"y":0.0097},{"p":"NAg","s":"LT","x":22.2,"y":0.0109},{"p":"NAg","s":"LT","x":28.4,"y":0.01},{"p":"NAg","s":"LT","x":39.3,"y":0.0082},{"p":"NAg","s":"LT","x":50.3,"y":0.0063},{"p":"NAg","s":"LT","x":64,"y":0.0046},{"p":"NAg","s":"LT","x":101,"y":0.0025},{"p":"NAg","s":"LT","x":237,"y":0.0004},
      {"p":"NAg","s":"RT","x":2.03,"y":0.0226},{"p":"NAg","s":"RT","x":2.44,"y":0.0251},{"p":"NAg","s":"RT","x":2.87,"y":0.0295},{"p":"NAg","s":"RT","x":3.25,"y":0.0358},{"p":"NAg","s":"RT","x":3.38,"y":0.0546},{"p":"NAg","s":"RT","x":3.6,"y":0.0647},{"p":"NAg","s":"RT","x":3.82,"y":0.0691},{"p":"NAg","s":"RT","x":4.06,"y":0.0672},{"p":"NAg","s":"RT","x":4.33,"y":0.0546},{"p":"NAg","s":"RT","x":4.6,"y":0.0295},{"p":"NAg","s":"RT","x":4.9,"y":0.0144},{"p":"NAg","s":"RT","x":5.3,"y":0.0057},{"p":"NAg","s":"RT","x":6.0,"y":0.0031},{"p":"NAg","s":"RT","x":7.06,"y":0.0031},{"p":"NAg","s":"RT","x":10,"y":0.005},{"p":"NAg","s":"RT","x":13.6,"y":0.0082},{"p":"NAg","s":"RT","x":18.9,"y":0.01},{"p":"NAg","s":"RT","x":26.2,"y":0.01},{"p":"NAg","s":"RT","x":34.8,"y":0.0088},{"p":"NAg","s":"RT","x":50.3,"y":0.0063},{"p":"NAg","s":"RT","x":101,"y":0.0025},{"p":"NAg","s":"RT","x":247,"y":0.0004},
      {"p":"NAg","s":"HT","x":2.16,"y":0.0147},{"p":"NAg","s":"HT","x":2.76,"y":0.0157},{"p":"NAg","s":"HT","x":3.25,"y":0.0188},{"p":"NAg","s":"HT","x":3.6,"y":0.0283},{"p":"NAg","s":"HT","x":3.9,"y":0.0421},{"p":"NAg","s":"HT","x":4.24,"y":0.0546},{"p":"NAg","s":"HT","x":4.6,"y":0.0634},{"p":"NAg","s":"HT","x":4.9,"y":0.0659},{"p":"NAg","s":"HT","x":5.2,"y":0.0609},{"p":"NAg","s":"HT","x":5.64,"y":0.0421},{"p":"NAg","s":"HT","x":6.12,"y":0.0232},{"p":"NAg","s":"HT","x":6.78,"y":0.0107},{"p":"NAg","s":"HT","x":7.66,"y":0.0057},{"p":"NAg","s":"HT","x":10,"y":0.005},{"p":"NAg","s":"HT","x":13.6,"y":0.0069},{"p":"NAg","s":"HT","x":18.9,"y":0.0088},{"p":"NAg","s":"HT","x":26.2,"y":0.0088},{"p":"NAg","s":"HT","x":36.2,"y":0.0082},{"p":"NAg","s":"HT","x":50.3,"y":0.0063},{"p":"NAg","s":"HT","x":101,"y":0.0025},{"p":"NAg","s":"HT","x":237,"y":0.0006},

      {"p":"NPd","s":"LT","x":2.03,"y":0.0363},{"p":"NPd","s":"LT","x":2.34,"y":0.0411},{"p":"NPd","s":"LT","x":2.7,"y":0.0468},{"p":"NPd","s":"LT","x":2.93,"y":0.0525},{"p":"NPd","s":"LT","x":3.12,"y":0.0602},{"p":"NPd","s":"LT","x":3.28,"y":0.0755},{"p":"NPd","s":"LT","x":3.45,"y":0.1032},{"p":"NPd","s":"LT","x":3.67,"y":0.106},{"p":"NPd","s":"LT","x":3.9,"y":0.1118},{"p":"NPd","s":"LT","x":4.06,"y":0.0774},{"p":"NPd","s":"LT","x":4.2,"y":0.0583},{"p":"NPd","s":"LT","x":4.32,"y":0.0401},{"p":"NPd","s":"LT","x":4.47,"y":0.0287},{"p":"NPd","s":"LT","x":4.6,"y":0.0191},{"p":"NPd","s":"LT","x":4.9,"y":0.0105},{"p":"NPd","s":"LT","x":5.3,"y":0.0048},{"p":"NPd","s":"LT","x":6.24,"y":0.0019},{"p":"NPd","s":"LT","x":10,"y":0.001},{"p":"NPd","s":"LT","x":25,"y":0.001},{"p":"NPd","s":"LT","x":42.7,"y":0.001},{"p":"NPd","s":"LT","x":91,"y":0.0006},{"p":"NPd","s":"LT","x":237,"y":0},
      {"p":"NPd","s":"RT","x":2.03,"y":0.0268},{"p":"NPd","s":"RT","x":2.44,"y":0.0306},{"p":"NPd","s":"RT","x":2.87,"y":0.0363},{"p":"NPd","s":"RT","x":3.2,"y":0.0449},{"p":"NPd","s":"RT","x":3.33,"y":0.0506},{"p":"NPd","s":"RT","x":3.45,"y":0.0659},{"p":"NPd","s":"RT","x":3.67,"y":0.0965},{"p":"NPd","s":"RT","x":3.86,"y":0.1204},{"p":"NPd","s":"RT","x":4.06,"y":0.13},{"p":"NPd","s":"RT","x":4.3,"y":0.129},{"p":"NPd","s":"RT","x":4.5,"y":0.1175},{"p":"NPd","s":"RT","x":4.65,"y":0.0927},{"p":"NPd","s":"RT","x":4.8,"y":0.064},{"p":"NPd","s":"RT","x":4.93,"y":0.0439},{"p":"NPd","s":"RT","x":5.09,"y":0.0296},{"p":"NPd","s":"RT","x":5.3,"y":0.0162},{"p":"NPd","s":"RT","x":5.64,"y":0.0086},{"p":"NPd","s":"RT","x":6.24,"y":0.0038},{"p":"NPd","s":"RT","x":10,"y":0.0013},{"p":"NPd","s":"RT","x":23.1,"y":0.001},{"p":"NPd","s":"RT","x":42.7,"y":0.001},{"p":"NPd","s":"RT","x":70,"y":0.0009},{"p":"NPd","s":"RT","x":210,"y":0.0006},

      {"p":"NPt","s":"LT","x":2.03,"y":0.0242},{"p":"NPt","s":"LT","x":2.44,"y":0.0304},{"p":"NPt","s":"LT","x":2.87,"y":0.0381},{"p":"NPt","s":"LT","x":3.25,"y":0.0489},{"p":"NPt","s":"LT","x":3.38,"y":0.083},{"p":"NPt","s":"LT","x":3.5,"y":0.1047},{"p":"NPt","s":"LT","x":3.67,"y":0.0954},{"p":"NPt","s":"LT","x":3.9,"y":0.0768},{"p":"NPt","s":"LT","x":4.06,"y":0.0551},{"p":"NPt","s":"LT","x":4.2,"y":0.0365},{"p":"NPt","s":"LT","x":4.42,"y":0.018},{"p":"NPt","s":"LT","x":4.69,"y":0.0087},{"p":"NPt","s":"LT","x":5.3,"y":0.004},{"p":"NPt","s":"LT","x":7.06,"y":0.0019},{"p":"NPt","s":"LT","x":10,"y":0.0015},{"p":"NPt","s":"LT","x":237,"y":0},
      {"p":"NPt","s":"RT","x":2.03,"y":0.0288},{"p":"NPt","s":"RT","x":2.44,"y":0.035},{"p":"NPt","s":"RT","x":2.87,"y":0.0427},{"p":"NPt","s":"RT","x":3.25,"y":0.052},{"p":"NPt","s":"RT","x":3.45,"y":0.0644},{"p":"NPt","s":"RT","x":3.6,"y":0.1171},{"p":"NPt","s":"RT","x":3.75,"y":0.1574},{"p":"NPt","s":"RT","x":3.9,"y":0.1728},{"p":"NPt","s":"RT","x":4.06,"y":0.1883},{"p":"NPt","s":"RT","x":4.24,"y":0.179},{"p":"NPt","s":"RT","x":4.42,"y":0.1357},{"p":"NPt","s":"RT","x":4.56,"y":0.1016},{"p":"NPt","s":"RT","x":4.69,"y":0.0706},{"p":"NPt","s":"RT","x":4.9,"y":0.0427},{"p":"NPt","s":"RT","x":5.2,"y":0.0211},{"p":"NPt","s":"RT","x":5.75,"y":0.0087},{"p":"NPt","s":"RT","x":7.06,"y":0.0031},{"p":"NPt","s":"RT","x":10,"y":0.0015},{"p":"NPt","s":"RT","x":237,"y":0},
      {"p":"NPt","s":"HT","x":2.03,"y":0.018},{"p":"NPt","s":"HT","x":2.44,"y":0.0195},{"p":"NPt","s":"HT","x":3.0,"y":0.0242},{"p":"NPt","s":"HT","x":3.38,"y":0.0304},{"p":"NPt","s":"HT","x":3.75,"y":0.0396},{"p":"NPt","s":"HT","x":4.06,"y":0.052},{"p":"NPt","s":"HT","x":4.42,"y":0.0737},{"p":"NPt","s":"HT","x":4.69,"y":0.0954},{"p":"NPt","s":"HT","x":5.0,"y":0.1264},{"p":"NPt","s":"HT","x":5.24,"y":0.148},{"p":"NPt","s":"HT","x":5.46,"y":0.1697},{"p":"NPt","s":"HT","x":5.6,"y":0.1976},{"p":"NPt","s":"HT","x":5.75,"y":0.1821},{"p":"NPt","s":"HT","x":5.94,"y":0.1357},{"p":"NPt","s":"HT","x":6.12,"y":0.1078},{"p":"NPt","s":"HT","x":6.3,"y":0.0644},{"p":"NPt","s":"HT","x":6.5,"y":0.0365},{"p":"NPt","s":"HT","x":6.9,"y":0.0211},{"p":"NPt","s":"HT","x":7.5,"y":0.0102},{"p":"NPt","s":"HT","x":8.67,"y":0.005},{"p":"NPt","s":"HT","x":12.5,"y":0.0019},{"p":"NPt","s":"HT","x":23.1,"y":0.0009},{"p":"NPt","s":"HT","x":42.7,"y":0.0009},{"p":"NPt","s":"HT","x":101,"y":0.0009},{"p":"NPt","s":"HT","x":247,"y":0},

      {"p":"NAu","s":"LT","x":2.03,"y":0.0397},{"p":"NAu","s":"LT","x":2.44,"y":0.0425},{"p":"NAu","s":"LT","x":2.87,"y":0.0476},{"p":"NAu","s":"LT","x":3.25,"y":0.0534},{"p":"NAu","s":"LT","x":3.54,"y":0.0707},{"p":"NAu","s":"LT","x":3.75,"y":0.1096},{"p":"NAu","s":"LT","x":3.86,"y":0.1313},{"p":"NAu","s":"LT","x":3.98,"y":0.1197},{"p":"NAu","s":"LT","x":4.1,"y":0.1024},{"p":"NAu","s":"LT","x":4.27,"y":0.0851},{"p":"NAu","s":"LT","x":4.42,"y":0.0663},{"p":"NAu","s":"LT","x":4.6,"y":0.0447},{"p":"NAu","s":"LT","x":4.8,"y":0.0303},{"p":"NAu","s":"LT","x":5.09,"y":0.0159},{"p":"NAu","s":"LT","x":5.52,"y":0.0072},{"p":"NAu","s":"LT","x":6.5,"y":0.0029},{"p":"NAu","s":"LT","x":8.32,"y":0.0022},{"p":"NAu","s":"LT","x":12.5,"y":0.0029},{"p":"NAu","s":"LT","x":18.9,"y":0.005},{"p":"NAu","s":"LT","x":24.1,"y":0.0072},{"p":"NAu","s":"LT","x":28.4,"y":0.0065},{"p":"NAu","s":"LT","x":36.2,"y":0.005},{"p":"NAu","s":"LT","x":50.3,"y":0.0029},{"p":"NAu","s":"LT","x":101,"y":0.0014},{"p":"NAu","s":"LT","x":237,"y":0.0007},
      {"p":"NAu","s":"RT","x":2.03,"y":0.0454},{"p":"NAu","s":"RT","x":2.44,"y":0.0505},{"p":"NAu","s":"RT","x":2.87,"y":0.0584},{"p":"NAu","s":"RT","x":3.25,"y":0.0678},{"p":"NAu","s":"RT","x":3.45,"y":0.0837},{"p":"NAu","s":"RT","x":3.6,"y":0.1053},{"p":"NAu","s":"RT","x":3.75,"y":0.1313},{"p":"NAu","s":"RT","x":3.9,"y":0.1529},{"p":"NAu","s":"RT","x":4.06,"y":0.1666},{"p":"NAu","s":"RT","x":4.24,"y":0.1615},{"p":"NAu","s":"RT","x":4.42,"y":0.1385},{"p":"NAu","s":"RT","x":4.6,"y":0.1139},{"p":"NAu","s":"RT","x":4.8,"y":0.0952},{"p":"NAu","s":"RT","x":5.0,"y":0.0736},{"p":"NAu","s":"RT","x":5.3,"y":0.049},{"p":"NAu","s":"RT","x":5.64,"y":0.0317},{"p":"NAu","s":"RT","x":6.12,"y":0.0188},{"p":"NAu","s":"RT","x":6.78,"y":0.0101},{"p":"NAu","s":"RT","x":8.32,"y":0.0058},{"p":"NAu","s":"RT","x":10.6,"y":0.0043},{"p":"NAu","s":"RT","x":13.6,"y":0.005},{"p":"NAu","s":"RT","x":18.9,"y":0.0087},{"p":"NAu","s":"RT","x":23.1,"y":0.013},{"p":"NAu","s":"RT","x":26.2,"y":0.013},{"p":"NAu","s":"RT","x":30.8,"y":0.0101},{"p":"NAu","s":"RT","x":39.3,"y":0.0072},{"p":"NAu","s":"RT","x":52.4,"y":0.0043},{"p":"NAu","s":"RT","x":66.9,"y":0.0029},{"p":"NAu","s":"RT","x":101,"y":0.0014},{"p":"NAu","s":"RT","x":237,"y":0.0007},
      {"p":"NAu","s":"HT","x":2.03,"y":0.0288},{"p":"NAu","s":"HT","x":2.44,"y":0.0317},{"p":"NAu","s":"HT","x":2.87,"y":0.0375},{"p":"NAu","s":"HT","x":3.38,"y":0.0505},{"p":"NAu","s":"HT","x":3.67,"y":0.0663},{"p":"NAu","s":"HT","x":3.98,"y":0.088},{"p":"NAu","s":"HT","x":4.24,"y":0.1139},{"p":"NAu","s":"HT","x":4.5,"y":0.1413},{"p":"NAu","s":"HT","x":4.74,"y":0.1572},{"p":"NAu","s":"HT","x":4.93,"y":0.1615},{"p":"NAu","s":"HT","x":5.09,"y":0.1572},{"p":"NAu","s":"HT","x":5.3,"y":0.1428},{"p":"NAu","s":"HT","x":5.52,"y":0.1313},{"p":"NAu","s":"HT","x":5.75,"y":0.1139},{"p":"NAu","s":"HT","x":6.0,"y":0.0981},{"p":"NAu","s":"HT","x":6.24,"y":0.0808},{"p":"NAu","s":"HT","x":6.5,"y":0.0591},{"p":"NAu","s":"HT","x":6.9,"y":0.0375},{"p":"NAu","s":"HT","x":7.5,"y":0.0216},{"p":"NAu","s":"HT","x":8.32,"y":0.013},{"p":"NAu","s":"HT","x":9.8,"y":0.0087},{"p":"NAu","s":"HT","x":12.5,"y":0.0065},{"p":"NAu","s":"HT","x":17.2,"y":0.0072},{"p":"NAu","s":"HT","x":23.1,"y":0.0101},{"p":"NAu","s":"HT","x":28.4,"y":0.0123},{"p":"NAu","s":"HT","x":33.4,"y":0.0108},{"p":"NAu","s":"HT","x":39.3,"y":0.0087},{"p":"NAu","s":"HT","x":50.3,"y":0.0058},{"p":"NAu","s":"HT","x":64,"y":0.0043},{"p":"NAu","s":"HT","x":101,"y":0.0022},{"p":"NAu","s":"HT","x":237,"y":0.0007}
    ]
  },
  "data": {"name": "pts"},
  "columns": 3,
  "bounds": "flush",
  "spacing": {"row": 0, "column": 161},
  "resolve": {"scale": {"color": "independent"}, "legend": {"color": "independent"}},
  "concat": [
    {"width": 747, "height": 495, "title": {"text": "P++, 0.02 Ω·cm", "dx": 35},
     "resolve": {"axis": {"x": "independent"}},
     "encoding": {
       "x": {"field": "x", "type": "quantitative", "scale": {"type": "log", "domain": [2, 300], "nice": false}, "axis": {"values": [3,4,5,6,7,8,9,10,20,30,40,50,60,70,80,90,100,200], "labels": false, "title": null, "tickSize": {"condition": {"test": "datum.value==10||datum.value==100", "value": 14}, "value": 8}, "gridColor": {"condition": {"test": "datum.value==10||datum.value==100", "value": "#8a8a8a"}, "value": "#d0d0d0"}}},
       "y": {"field": "y", "type": "quantitative", "scale": {"domain": [-0.0011, 0.0492], "nice": false, "zero": false}, "axis": {"values": [0,0.005,0.01,0.015,0.02,0.025,0.03,0.035,0.04,0.045], "title": "Pore Vol.(cm³/g·nm)", "labelExpr": "abs(datum.value*100-round(datum.value*100))<1e-6 ? format(datum.value,'.2f') : ''", "tickSize": {"condition": {"test": "abs(datum.value*100-round(datum.value*100))<1e-6", "value": 13}, "value": 7}, "gridOpacity": {"condition": {"test": "abs(datum.value*100-round(datum.value*100))<1e-6", "value": 1}, "value": 0}}}
     },
     "layer": [
       {"transform": [{"filter": "datum.p=='PCu'"}], "mark": {"type": "point", "shape": "square", "filled": true, "size": 100, "opacity": 1}, "encoding": {"color": {"field": "s", "type": "nominal", "scale": {"domain": ["LT","RT","HT"], "range": ["#3d3d3d","#ee2e2e","#1c64dc"]}, "legend": {"orient": "none", "legendX": 570, "legendY": 14, "title": null, "symbolType": "M-1.717,-0.083H1.717V0.083H-1.717Z M-0.233,-0.233H0.233V0.233H-0.233Z", "symbolSize": 3600, "symbolStrokeWidth": 0, "labelFontSize": 42, "labelFont": "DejaVu Sans", "labelColor": "#222", "labelOffset": 31, "rowPadding": 4, "padding": 0}}}},
       {"transform": [{"filter": "datum.p=='PCu'"}], "mark": {"type": "line", "strokeWidth": 3}, "encoding": {"x": {"field": "x", "type": "quantitative", "axis": null}, "color": {"field": "s", "type": "nominal", "scale": {"domain": ["LT","RT","HT"], "range": ["#3d3d3d","#ee2e2e","#1c64dc"]}, "legend": null}}},
       {"transform": [{"filter": "datum.p=='PCu'"}, {"aggregate": [{"op": "min", "field": "x", "as": "x"}, {"op": "min", "field": "y", "as": "y"}]}], "mark": {"type": "point", "opacity": 0}, "encoding": {"x": {"field": "x", "type": "quantitative", "axis": {"orient": "top", "title": "Cu", "labels": false, "ticks": false, "grid": false, "domain": false, "titleFontSize": 54, "titleColor": "#111", "titleX": 26, "titleY": 64, "titleAlign": "left", "titleBaseline": "alphabetic"}}}}
     ]},
    {"width": 747, "height": 495, "title": {"text": "UW, > 5 kΩ·cm", "dx": -35},
     "resolve": {"axis": {"x": "independent"}},
     "encoding": {
       "x": {"field": "x", "type": "quantitative", "scale": {"type": "log", "domain": [2, 300], "nice": false}, "axis": {"values": [3,4,5,6,7,8,9,10,20,30,40,50,60,70,80,90,100,200], "labels": false, "title": null, "tickSize": {"condition": {"test": "datum.value==10||datum.value==100", "value": 14}, "value": 8}, "gridColor": {"condition": {"test": "datum.value==10||datum.value==100", "value": "#8a8a8a"}, "value": "#d0d0d0"}}},
       "y": {"field": "y", "type": "quantitative", "scale": {"domain": [-0.002, 0.0489], "nice": false, "zero": false}, "axis": {"values": [0,0.005,0.01,0.015,0.02,0.025,0.03,0.035,0.04,0.045], "title": null, "labelExpr": "abs(datum.value*100-round(datum.value*100))<1e-6 ? format(datum.value,'.2f') : ''", "tickSize": {"condition": {"test": "abs(datum.value*100-round(datum.value*100))<1e-6", "value": 13}, "value": 7}, "gridOpacity": {"condition": {"test": "abs(datum.value*100-round(datum.value*100))<1e-6", "value": 1}, "value": 0}}}
     },
     "layer": [
       {"transform": [{"filter": "datum.p=='UCu'"}], "mark": {"type": "point", "shape": "square", "filled": true, "size": 100, "opacity": 1}, "encoding": {"color": {"field": "s", "type": "nominal", "scale": {"domain": ["LT","RT","HT"], "range": ["#3d3d3d","#ee2e2e","#1c64dc"]}, "legend": null}}},
       {"transform": [{"filter": "datum.p=='UCu'"}], "mark": {"type": "line", "strokeWidth": 3}, "encoding": {"x": {"field": "x", "type": "quantitative", "axis": null}, "color": {"field": "s", "type": "nominal", "scale": {"domain": ["LT","RT","HT"], "range": ["#3d3d3d","#ee2e2e","#1c64dc"]}, "legend": null}}},
       {"transform": [{"filter": "datum.p=='UCu'"}, {"aggregate": [{"op": "min", "field": "x", "as": "x"}, {"op": "min", "field": "y", "as": "y"}]}], "mark": {"type": "point", "opacity": 0}, "encoding": {"x": {"field": "x", "type": "quantitative", "axis": {"orient": "top", "title": "Cu", "labels": false, "ticks": false, "grid": false, "domain": false, "titleFontSize": 54, "titleColor": "#111", "titleX": 13, "titleY": 66, "titleAlign": "left", "titleBaseline": "alphabetic"}}}}
     ]},
    {"width": 747, "height": 495, "title": {"text": "N++, 0.015 Ω·cm", "dx": -54},
     "resolve": {"axis": {"x": "independent"}},
     "encoding": {
       "x": {"field": "x", "type": "quantitative", "scale": {"type": "log", "domain": [2, 300], "nice": false}, "axis": {"values": [3,4,5,6,7,8,9,10,20,30,40,50,60,70,80,90,100,200], "labels": false, "title": null, "tickSize": {"condition": {"test": "datum.value==10||datum.value==100", "value": 14}, "value": 8}, "gridColor": {"condition": {"test": "datum.value==10||datum.value==100", "value": "#8a8a8a"}, "value": "#d0d0d0"}}},
       "y": {"field": "y", "type": "quantitative", "scale": {"domain": [-0.0057, 0.1706], "nice": false, "zero": false}, "axis": {"values": [0,0.015,0.03,0.045,0.06,0.075,0.09,0.105,0.12,0.135,0.15,0.165], "title": null, "labelExpr": "abs(datum.value/0.03-round(datum.value/0.03))<1e-6 ? format(datum.value,'.2f') : ''", "tickSize": {"condition": {"test": "abs(datum.value/0.03-round(datum.value/0.03))<1e-6", "value": 13}, "value": 7}, "gridOpacity": {"condition": {"test": "abs(datum.value/0.03-round(datum.value/0.03))<1e-6", "value": 1}, "value": 0}}}
     },
     "layer": [
       {"transform": [{"filter": "datum.p=='NCu'"}], "mark": {"type": "point", "shape": "square", "filled": true, "size": 100, "opacity": 1}, "encoding": {"color": {"field": "s", "type": "nominal", "scale": {"domain": ["LT","RT","HT"], "range": ["#3d3d3d","#ee2e2e","#1c64dc"]}, "legend": null}}},
       {"transform": [{"filter": "datum.p=='NCu'"}], "mark": {"type": "line", "strokeWidth": 3}, "encoding": {"x": {"field": "x", "type": "quantitative", "axis": null}, "color": {"field": "s", "type": "nominal", "scale": {"domain": ["LT","RT","HT"], "range": ["#3d3d3d","#ee2e2e","#1c64dc"]}, "legend": null}}},
       {"transform": [{"filter": "datum.p=='NCu'"}, {"aggregate": [{"op": "min", "field": "x", "as": "x"}, {"op": "min", "field": "y", "as": "y"}]}], "mark": {"type": "point", "opacity": 0}, "encoding": {"x": {"field": "x", "type": "quantitative", "axis": {"orient": "top", "title": "Cu", "labels": false, "ticks": false, "grid": false, "domain": false, "titleFontSize": 54, "titleColor": "#111", "titleX": 19, "titleY": 64, "titleAlign": "left", "titleBaseline": "alphabetic"}}}}
     ]},

    {"width": 747, "height": 495,
     "resolve": {"axis": {"x": "independent"}},
     "encoding": {
       "x": {"field": "x", "type": "quantitative", "scale": {"type": "log", "domain": [2, 300], "nice": false}, "axis": {"values": [3,4,5,6,7,8,9,10,20,30,40,50,60,70,80,90,100,200], "labels": false, "title": null, "tickSize": {"condition": {"test": "datum.value==10||datum.value==100", "value": 14}, "value": 8}, "gridColor": {"condition": {"test": "datum.value==10||datum.value==100", "value": "#8a8a8a"}, "value": "#d0d0d0"}}},
       "y": {"field": "y", "type": "quantitative", "scale": {"domain": [-0.0009, 0.024], "nice": false, "zero": false}, "axis": {"values": [0,0.0025,0.005,0.0075,0.01,0.0125,0.015,0.0175,0.02,0.0225], "title": "Pore Vol.(cm³/g·nm)", "labelExpr": "abs(datum.value*200-round(datum.value*200))<1e-6 ? format(datum.value,'.3f') : ''", "tickSize": {"condition": {"test": "abs(datum.value*200-round(datum.value*200))<1e-6", "value": 13}, "value": 7}, "gridOpacity": {"condition": {"test": "abs(datum.value*200-round(datum.value*200))<1e-6", "value": 1}, "value": 0}}}
     },
     "layer": [
       {"transform": [{"filter": "datum.p=='PAg'"}], "mark": {"type": "point", "shape": "square", "filled": true, "size": 100, "opacity": 1}, "encoding": {"color": {"field": "s", "type": "nominal", "scale": {"domain": ["LT","RT","HT"], "range": ["#3d3d3d","#ee2e2e","#1c64dc"]}, "legend": null}}},
       {"transform": [{"filter": "datum.p=='PAg'"}], "mark": {"type": "line", "strokeWidth": 3}, "encoding": {"x": {"field": "x", "type": "quantitative", "axis": null}, "color": {"field": "s", "type": "nominal", "scale": {"domain": ["LT","RT","HT"], "range": ["#3d3d3d","#ee2e2e","#1c64dc"]}, "legend": null}}},
       {"transform": [{"filter": "datum.p=='PAg'"}, {"aggregate": [{"op": "min", "field": "x", "as": "x"}, {"op": "min", "field": "y", "as": "y"}]}], "mark": {"type": "point", "opacity": 0}, "encoding": {"x": {"field": "x", "type": "quantitative", "axis": {"orient": "top", "title": "Ag", "labels": false, "ticks": false, "grid": false, "domain": false, "titleFontSize": 54, "titleColor": "#111", "titleX": 26, "titleY": 64, "titleAlign": "left", "titleBaseline": "alphabetic"}}}}
     ]},
    {"width": 747, "height": 495,
     "resolve": {"axis": {"x": "independent"}},
     "encoding": {
       "x": {"field": "x", "type": "quantitative", "scale": {"type": "log", "domain": [2, 300], "nice": false}, "axis": {"values": [3,4,5,6,7,8,9,10,20,30,40,50,60,70,80,90,100,200], "labels": false, "title": null, "tickSize": {"condition": {"test": "datum.value==10||datum.value==100", "value": 14}, "value": 8}, "gridColor": {"condition": {"test": "datum.value==10||datum.value==100", "value": "#8a8a8a"}, "value": "#d0d0d0"}}},
       "y": {"field": "y", "type": "quantitative", "scale": {"domain": [-0.0007, 0.0239], "nice": false, "zero": false}, "axis": {"values": [0,0.0025,0.005,0.0075,0.01,0.0125,0.015,0.0175,0.02,0.0225], "title": null, "labelExpr": "abs(datum.value*200-round(datum.value*200))<1e-6 ? format(datum.value,'.3f') : ''", "tickSize": {"condition": {"test": "abs(datum.value*200-round(datum.value*200))<1e-6", "value": 13}, "value": 7}, "gridOpacity": {"condition": {"test": "abs(datum.value*200-round(datum.value*200))<1e-6", "value": 1}, "value": 0}}}
     },
     "layer": [
       {"transform": [{"filter": "datum.p=='UAg'"}], "mark": {"type": "point", "shape": "square", "filled": true, "size": 100, "opacity": 1}, "encoding": {"color": {"field": "s", "type": "nominal", "scale": {"domain": ["LT","RT","HT"], "range": ["#3d3d3d","#ee2e2e","#1c64dc"]}, "legend": null}}},
       {"transform": [{"filter": "datum.p=='UAg'"}], "mark": {"type": "line", "strokeWidth": 3}, "encoding": {"x": {"field": "x", "type": "quantitative", "axis": null}, "color": {"field": "s", "type": "nominal", "scale": {"domain": ["LT","RT","HT"], "range": ["#3d3d3d","#ee2e2e","#1c64dc"]}, "legend": null}}},
       {"transform": [{"filter": "datum.p=='UAg'"}, {"aggregate": [{"op": "min", "field": "x", "as": "x"}, {"op": "min", "field": "y", "as": "y"}]}], "mark": {"type": "point", "opacity": 0}, "encoding": {"x": {"field": "x", "type": "quantitative", "axis": {"orient": "top", "title": "Ag", "labels": false, "ticks": false, "grid": false, "domain": false, "titleFontSize": 54, "titleColor": "#111", "titleX": 13, "titleY": 66, "titleAlign": "left", "titleBaseline": "alphabetic"}}}}
     ]},
    {"width": 747, "height": 495,
     "resolve": {"axis": {"x": "independent"}},
     "encoding": {
       "x": {"field": "x", "type": "quantitative", "scale": {"type": "log", "domain": [2, 300], "nice": false}, "axis": {"values": [3,4,5,6,7,8,9,10,20,30,40,50,60,70,80,90,100,200], "labels": false, "title": null, "tickSize": {"condition": {"test": "datum.value==10||datum.value==100", "value": 14}, "value": 8}, "gridColor": {"condition": {"test": "datum.value==10||datum.value==100", "value": "#8a8a8a"}, "value": "#d0d0d0"}}},
       "y": {"field": "y", "type": "quantitative", "scale": {"domain": [-0.0008, 0.0848], "nice": false, "zero": false}, "axis": {"values": [0,0.01,0.02,0.03,0.04,0.05,0.06,0.07,0.08], "title": null, "labelExpr": "abs(datum.value*50-round(datum.value*50))<1e-6 ? format(datum.value,'.2f') : ''", "tickSize": {"condition": {"test": "abs(datum.value*50-round(datum.value*50))<1e-6", "value": 13}, "value": 7}, "gridOpacity": {"condition": {"test": "abs(datum.value*50-round(datum.value*50))<1e-6", "value": 1}, "value": 0}}}
     },
     "layer": [
       {"transform": [{"filter": "datum.p=='NAg'"}], "mark": {"type": "point", "shape": "square", "filled": true, "size": 100, "opacity": 1}, "encoding": {"color": {"field": "s", "type": "nominal", "scale": {"domain": ["LT","RT","HT"], "range": ["#3d3d3d","#ee2e2e","#1c64dc"]}, "legend": null}}},
       {"transform": [{"filter": "datum.p=='NAg'"}], "mark": {"type": "line", "strokeWidth": 3}, "encoding": {"x": {"field": "x", "type": "quantitative", "axis": null}, "color": {"field": "s", "type": "nominal", "scale": {"domain": ["LT","RT","HT"], "range": ["#3d3d3d","#ee2e2e","#1c64dc"]}, "legend": null}}},
       {"transform": [{"filter": "datum.p=='NAg'"}, {"aggregate": [{"op": "min", "field": "x", "as": "x"}, {"op": "min", "field": "y", "as": "y"}]}], "mark": {"type": "point", "opacity": 0}, "encoding": {"x": {"field": "x", "type": "quantitative", "axis": {"orient": "top", "title": "Ag", "labels": false, "ticks": false, "grid": false, "domain": false, "titleFontSize": 54, "titleColor": "#111", "titleX": 19, "titleY": 64, "titleAlign": "left", "titleBaseline": "alphabetic"}}}}
     ]},

    {"width": 747, "height": 495,
     "resolve": {"axis": {"x": "independent"}},
     "encoding": {
       "x": {"field": "x", "type": "quantitative", "scale": {"type": "log", "domain": [2, 300], "nice": false}, "axis": {"values": [3,4,5,6,7,8,9,10,20,30,40,50,60,70,80,90,100,200], "labels": false, "title": null, "tickSize": {"condition": {"test": "datum.value==10||datum.value==100", "value": 14}, "value": 8}, "gridColor": {"condition": {"test": "datum.value==10||datum.value==100", "value": "#8a8a8a"}, "value": "#d0d0d0"}}},
       "y": {"field": "y", "type": "quantitative", "scale": {"domain": [-0.0019, 0.0591], "nice": false, "zero": false}, "axis": {"values": [0,0.005,0.01,0.015,0.02,0.025,0.03,0.035,0.04,0.045,0.05,0.055], "title": "Pore Vol.(cm³/g·nm)", "labelExpr": "abs(datum.value*100-round(datum.value*100))<1e-6 ? format(datum.value,'.2f') : ''", "tickSize": {"condition": {"test": "abs(datum.value*100-round(datum.value*100))<1e-6", "value": 13}, "value": 7}, "gridOpacity": {"condition": {"test": "abs(datum.value*100-round(datum.value*100))<1e-6", "value": 1}, "value": 0}}}
     },
     "layer": [
       {"transform": [{"filter": "datum.p=='PPd'"}], "mark": {"type": "point", "shape": "square", "filled": true, "size": 100, "opacity": 1}, "encoding": {"color": {"field": "s", "type": "nominal", "scale": {"domain": ["LT","RT","HT"], "range": ["#3d3d3d","#ee2e2e","#1c64dc"]}, "legend": null}}},
       {"transform": [{"filter": "datum.p=='PPd'"}], "mark": {"type": "line", "strokeWidth": 3}, "encoding": {"x": {"field": "x", "type": "quantitative", "axis": null}, "color": {"field": "s", "type": "nominal", "scale": {"domain": ["LT","RT","HT"], "range": ["#3d3d3d","#ee2e2e","#1c64dc"]}, "legend": null}}},
       {"transform": [{"filter": "datum.p=='PPd'"}, {"aggregate": [{"op": "min", "field": "x", "as": "x"}, {"op": "min", "field": "y", "as": "y"}]}], "mark": {"type": "point", "opacity": 0}, "encoding": {"x": {"field": "x", "type": "quantitative", "axis": {"orient": "top", "title": "Pd", "labels": false, "ticks": false, "grid": false, "domain": false, "titleFontSize": 54, "titleColor": "#111", "titleX": 26, "titleY": 60, "titleAlign": "left", "titleBaseline": "alphabetic"}}}}
     ]},
    {"width": 747, "height": 495,
     "resolve": {"axis": {"x": "independent"}},
     "encoding": {
       "x": {"field": "x", "type": "quantitative", "scale": {"type": "log", "domain": [2, 300], "nice": false}, "axis": {"values": [3,4,5,6,7,8,9,10,20,30,40,50,60,70,80,90,100,200], "labels": false, "title": null, "tickSize": {"condition": {"test": "datum.value==10||datum.value==100", "value": 14}, "value": 8}, "gridColor": {"condition": {"test": "datum.value==10||datum.value==100", "value": "#8a8a8a"}, "value": "#d0d0d0"}}},
       "y": {"field": "y", "type": "quantitative", "scale": {"domain": [-0.002, 0.0487], "nice": false, "zero": false}, "axis": {"values": [0,0.005,0.01,0.015,0.02,0.025,0.03,0.035,0.04,0.045], "title": null, "labelExpr": "abs(datum.value*100-round(datum.value*100))<1e-6 ? format(datum.value,'.2f') : ''", "tickSize": {"condition": {"test": "abs(datum.value*100-round(datum.value*100))<1e-6", "value": 13}, "value": 7}, "gridOpacity": {"condition": {"test": "abs(datum.value*100-round(datum.value*100))<1e-6", "value": 1}, "value": 0}}}
     },
     "layer": [
       {"transform": [{"filter": "datum.p=='UPd'"}], "mark": {"type": "point", "shape": "square", "filled": true, "size": 100, "opacity": 1}, "encoding": {"color": {"field": "s", "type": "nominal", "scale": {"domain": ["LT","RT","HT"], "range": ["#3d3d3d","#ee2e2e","#1c64dc"]}, "legend": null}}},
       {"transform": [{"filter": "datum.p=='UPd'"}], "mark": {"type": "line", "strokeWidth": 3}, "encoding": {"x": {"field": "x", "type": "quantitative", "axis": null}, "color": {"field": "s", "type": "nominal", "scale": {"domain": ["LT","RT","HT"], "range": ["#3d3d3d","#ee2e2e","#1c64dc"]}, "legend": null}}},
       {"transform": [{"filter": "datum.p=='UPd'"}, {"aggregate": [{"op": "min", "field": "x", "as": "x"}, {"op": "min", "field": "y", "as": "y"}]}], "mark": {"type": "point", "opacity": 0}, "encoding": {"x": {"field": "x", "type": "quantitative", "axis": {"orient": "top", "title": "Pd", "labels": false, "ticks": false, "grid": false, "domain": false, "titleFontSize": 54, "titleColor": "#111", "titleX": 13, "titleY": 66, "titleAlign": "left", "titleBaseline": "alphabetic"}}}}
     ]},
    {"width": 747, "height": 495,
     "resolve": {"axis": {"x": "independent"}},
     "encoding": {
       "x": {"field": "x", "type": "quantitative", "scale": {"type": "log", "domain": [2, 300], "nice": false}, "axis": {"values": [3,4,5,6,7,8,9,10,20,30,40,50,60,70,80,90,100,200], "labels": false, "title": null, "tickSize": {"condition": {"test": "datum.value==10||datum.value==100", "value": 14}, "value": 8}, "gridColor": {"condition": {"test": "datum.value==10||datum.value==100", "value": "#8a8a8a"}, "value": "#d0d0d0"}}},
       "y": {"field": "y", "type": "quantitative", "scale": {"domain": [-0.0048, 0.14], "nice": false, "zero": false}, "axis": {"values": [0,0.015,0.03,0.045,0.06,0.075,0.09,0.105,0.12,0.135], "title": null, "labelExpr": "abs(datum.value/0.03-round(datum.value/0.03))<1e-6 ? format(datum.value,'.2f') : ''", "tickSize": {"condition": {"test": "abs(datum.value/0.03-round(datum.value/0.03))<1e-6", "value": 13}, "value": 7}, "gridOpacity": {"condition": {"test": "abs(datum.value/0.03-round(datum.value/0.03))<1e-6", "value": 1}, "value": 0}}}
     },
     "layer": [
       {"transform": [{"filter": "datum.p=='NPd'"}], "mark": {"type": "point", "shape": "square", "filled": true, "size": 100, "opacity": 1}, "encoding": {"color": {"field": "s", "type": "nominal", "scale": {"domain": ["LT","RT","HT"], "range": ["#3d3d3d","#ee2e2e","#1c64dc"]}, "legend": null}}},
       {"transform": [{"filter": "datum.p=='NPd'"}], "mark": {"type": "line", "strokeWidth": 3}, "encoding": {"x": {"field": "x", "type": "quantitative", "axis": null}, "color": {"field": "s", "type": "nominal", "scale": {"domain": ["LT","RT","HT"], "range": ["#3d3d3d","#ee2e2e","#1c64dc"]}, "legend": null}}},
       {"transform": [{"filter": "datum.p=='NPd'"}, {"aggregate": [{"op": "min", "field": "x", "as": "x"}, {"op": "min", "field": "y", "as": "y"}]}], "mark": {"type": "point", "opacity": 0}, "encoding": {"x": {"field": "x", "type": "quantitative", "axis": {"orient": "top", "title": "Pd", "labels": false, "ticks": false, "grid": false, "domain": false, "titleFontSize": 54, "titleColor": "#111", "titleX": 19, "titleY": 64, "titleAlign": "left", "titleBaseline": "alphabetic"}}}}
     ]},

    {"width": 747, "height": 495,
     "resolve": {"axis": {"x": "independent"}},
     "encoding": {
       "x": {"field": "x", "type": "quantitative", "scale": {"type": "log", "domain": [2, 300], "nice": false}, "axis": {"values": [3,4,5,6,7,8,9,10,20,30,40,50,60,70,80,90,100,200], "labels": false, "title": null, "tickSize": {"condition": {"test": "datum.value==10||datum.value==100", "value": 14}, "value": 8}, "gridColor": {"condition": {"test": "datum.value==10||datum.value==100", "value": "#8a8a8a"}, "value": "#d0d0d0"}}},
       "y": {"field": "y", "type": "quantitative", "scale": {"domain": [-0.0052, 0.1907], "nice": false, "zero": false}, "axis": {"values": [0,0.015,0.03,0.045,0.06,0.075,0.09,0.105,0.12,0.135,0.15,0.165,0.18], "title": "Pore Vol.(cm³/g·nm)", "labelExpr": "abs(datum.value/0.03-round(datum.value/0.03))<1e-6 ? format(datum.value,'.2f') : ''", "tickSize": {"condition": {"test": "abs(datum.value/0.03-round(datum.value/0.03))<1e-6", "value": 13}, "value": 7}, "gridOpacity": {"condition": {"test": "abs(datum.value/0.03-round(datum.value/0.03))<1e-6", "value": 1}, "value": 0}}}
     },
     "layer": [
       {"transform": [{"filter": "datum.p=='PPt'"}], "mark": {"type": "point", "shape": "square", "filled": true, "size": 100, "opacity": 1}, "encoding": {"color": {"field": "s", "type": "nominal", "scale": {"domain": ["LT","RT","HT"], "range": ["#3d3d3d","#ee2e2e","#1c64dc"]}, "legend": null}}},
       {"transform": [{"filter": "datum.p=='PPt'"}], "mark": {"type": "line", "strokeWidth": 3}, "encoding": {"x": {"field": "x", "type": "quantitative", "axis": null}, "color": {"field": "s", "type": "nominal", "scale": {"domain": ["LT","RT","HT"], "range": ["#3d3d3d","#ee2e2e","#1c64dc"]}, "legend": null}}},
       {"transform": [{"filter": "datum.p=='PPt'"}, {"aggregate": [{"op": "min", "field": "x", "as": "x"}, {"op": "min", "field": "y", "as": "y"}]}], "mark": {"type": "point", "opacity": 0}, "encoding": {"x": {"field": "x", "type": "quantitative", "axis": {"orient": "top", "title": "Pt", "labels": false, "ticks": false, "grid": false, "domain": false, "titleFontSize": 54, "titleColor": "#111", "titleX": 26, "titleY": 64, "titleAlign": "left", "titleBaseline": "alphabetic"}}}}
     ]},
    {"width": 747, "height": 495,
     "resolve": {"axis": {"x": "independent"}},
     "encoding": {
       "x": {"field": "x", "type": "quantitative", "scale": {"type": "log", "domain": [2, 300], "nice": false}, "axis": {"values": [3,4,5,6,7,8,9,10,20,30,40,50,60,70,80,90,100,200], "labels": false, "title": null, "tickSize": {"condition": {"test": "datum.value==10||datum.value==100", "value": 14}, "value": 8}, "gridColor": {"condition": {"test": "datum.value==10||datum.value==100", "value": "#8a8a8a"}, "value": "#d0d0d0"}}},
       "y": {"field": "y", "type": "quantitative", "scale": {"domain": [-0.002, 0.0488], "nice": false, "zero": false}, "axis": {"values": [0,0.005,0.01,0.015,0.02,0.025,0.03,0.035,0.04,0.045], "title": null, "labelExpr": "abs(datum.value*100-round(datum.value*100))<1e-6 ? format(datum.value,'.2f') : ''", "tickSize": {"condition": {"test": "abs(datum.value*100-round(datum.value*100))<1e-6", "value": 13}, "value": 7}, "gridOpacity": {"condition": {"test": "abs(datum.value*100-round(datum.value*100))<1e-6", "value": 1}, "value": 0}}}
     },
     "layer": [
       {"transform": [{"filter": "datum.p=='UPt'"}], "mark": {"type": "point", "shape": "square", "filled": true, "size": 100, "opacity": 1}, "encoding": {"color": {"field": "s", "type": "nominal", "scale": {"domain": ["LT","RT","HT"], "range": ["#3d3d3d","#ee2e2e","#1c64dc"]}, "legend": null}}},
       {"transform": [{"filter": "datum.p=='UPt'"}], "mark": {"type": "line", "strokeWidth": 3}, "encoding": {"x": {"field": "x", "type": "quantitative", "axis": null}, "color": {"field": "s", "type": "nominal", "scale": {"domain": ["LT","RT","HT"], "range": ["#3d3d3d","#ee2e2e","#1c64dc"]}, "legend": null}}},
       {"transform": [{"filter": "datum.p=='UPt'"}, {"aggregate": [{"op": "min", "field": "x", "as": "x"}, {"op": "min", "field": "y", "as": "y"}]}], "mark": {"type": "point", "opacity": 0}, "encoding": {"x": {"field": "x", "type": "quantitative", "axis": {"orient": "top", "title": "Pt", "labels": false, "ticks": false, "grid": false, "domain": false, "titleFontSize": 54, "titleColor": "#111", "titleX": 13, "titleY": 66, "titleAlign": "left", "titleBaseline": "alphabetic"}}}}
     ]},
    {"width": 747, "height": 495,
     "resolve": {"axis": {"x": "independent"}},
     "encoding": {
       "x": {"field": "x", "type": "quantitative", "scale": {"type": "log", "domain": [2, 300], "nice": false}, "axis": {"values": [3,4,5,6,7,8,9,10,20,30,40,50,60,70,80,90,100,200], "labels": false, "title": null, "tickSize": {"condition": {"test": "datum.value==10||datum.value==100", "value": 14}, "value": 8}, "gridColor": {"condition": {"test": "datum.value==10||datum.value==100", "value": "#8a8a8a"}, "value": "#d0d0d0"}}},
       "y": {"field": "y", "type": "quantitative", "scale": {"domain": [-0.0099, 0.2246], "nice": false, "zero": false}, "axis": {"values": [0,0.015,0.03,0.045,0.06,0.075,0.09,0.105,0.12,0.135,0.15,0.165,0.18,0.195,0.21], "title": null, "labelExpr": "abs(datum.value/0.03-round(datum.value/0.03))<1e-6 ? format(datum.value,'.2f') : ''", "tickSize": {"condition": {"test": "abs(datum.value/0.03-round(datum.value/0.03))<1e-6", "value": 13}, "value": 7}, "gridOpacity": {"condition": {"test": "abs(datum.value/0.03-round(datum.value/0.03))<1e-6", "value": 1}, "value": 0}}}
     },
     "layer": [
       {"transform": [{"filter": "datum.p=='NPt'"}], "mark": {"type": "point", "shape": "square", "filled": true, "size": 100, "opacity": 1}, "encoding": {"color": {"field": "s", "type": "nominal", "scale": {"domain": ["LT","RT","HT"], "range": ["#3d3d3d","#ee2e2e","#1c64dc"]}, "legend": null}}},
       {"transform": [{"filter": "datum.p=='NPt'"}], "mark": {"type": "line", "strokeWidth": 3}, "encoding": {"x": {"field": "x", "type": "quantitative", "axis": null}, "color": {"field": "s", "type": "nominal", "scale": {"domain": ["LT","RT","HT"], "range": ["#3d3d3d","#ee2e2e","#1c64dc"]}, "legend": null}}},
       {"transform": [{"filter": "datum.p=='NPt'"}, {"aggregate": [{"op": "min", "field": "x", "as": "x"}, {"op": "min", "field": "y", "as": "y"}]}], "mark": {"type": "point", "opacity": 0}, "encoding": {"x": {"field": "x", "type": "quantitative", "axis": {"orient": "top", "title": "Pt", "labels": false, "ticks": false, "grid": false, "domain": false, "titleFontSize": 54, "titleColor": "#111", "titleX": 19, "titleY": 64, "titleAlign": "left", "titleBaseline": "alphabetic"}}}}
     ]},

    {"width": 747, "height": 495,
     "resolve": {"axis": {"x": "independent"}},
     "encoding": {
       "x": {"field": "x", "type": "quantitative", "scale": {"type": "log", "domain": [2, 300], "nice": false}, "axis": {"values": [3,4,5,6,7,8,9,10,20,30,40,50,60,70,80,90,100,200], "labelExpr": "datum.value==10||datum.value==100 ? datum.label : ''", "title": "Pore Width (nm)", "titleX": 325, "tickSize": {"condition": {"test": "datum.value==10||datum.value==100", "value": 14}, "value": 8}, "gridColor": {"condition": {"test": "datum.value==10||datum.value==100", "value": "#8a8a8a"}, "value": "#d0d0d0"}}},
       "y": {"field": "y", "type": "quantitative", "scale": {"domain": [-0.003, 0.084], "nice": false, "zero": false}, "axis": {"values": [0,0.01,0.02,0.03,0.04,0.05,0.06,0.07,0.08], "title": "Pore Vol.(cm³/g·nm)", "labelExpr": "abs(datum.value*50-round(datum.value*50))<1e-6 ? format(datum.value,'.2f') : ''", "tickSize": {"condition": {"test": "abs(datum.value*50-round(datum.value*50))<1e-6", "value": 13}, "value": 7}, "gridOpacity": {"condition": {"test": "abs(datum.value*50-round(datum.value*50))<1e-6", "value": 1}, "value": 0}}}
     },
     "layer": [
       {"transform": [{"filter": "datum.p=='PAu'"}], "mark": {"type": "point", "shape": "square", "filled": true, "size": 100, "opacity": 1}, "encoding": {"color": {"field": "s", "type": "nominal", "scale": {"domain": ["LT","RT","HT"], "range": ["#3d3d3d","#ee2e2e","#1c64dc"]}, "legend": null}}},
       {"transform": [{"filter": "datum.p=='PAu'"}], "mark": {"type": "line", "strokeWidth": 3}, "encoding": {"x": {"field": "x", "type": "quantitative", "axis": null}, "color": {"field": "s", "type": "nominal", "scale": {"domain": ["LT","RT","HT"], "range": ["#3d3d3d","#ee2e2e","#1c64dc"]}, "legend": null}}},
       {"transform": [{"filter": "datum.p=='PAu'"}, {"aggregate": [{"op": "min", "field": "x", "as": "x"}, {"op": "min", "field": "y", "as": "y"}]}], "mark": {"type": "point", "opacity": 0}, "encoding": {"x": {"field": "x", "type": "quantitative", "axis": {"orient": "top", "title": "Au", "labels": false, "ticks": false, "grid": false, "domain": false, "titleFontSize": 54, "titleColor": "#111", "titleX": 26, "titleY": 64, "titleAlign": "left", "titleBaseline": "alphabetic"}}}}
     ]},
    {"width": 747, "height": 495,
     "resolve": {"axis": {"x": "independent"}},
     "encoding": {
       "x": {"field": "x", "type": "quantitative", "scale": {"type": "log", "domain": [2, 300], "nice": false}, "axis": {"values": [3,4,5,6,7,8,9,10,20,30,40,50,60,70,80,90,100,200], "labelExpr": "datum.value==10||datum.value==100 ? datum.label : ''", "title": "Pore Width (nm)", "tickSize": {"condition": {"test": "datum.value==10||datum.value==100", "value": 14}, "value": 8}, "gridColor": {"condition": {"test": "datum.value==10||datum.value==100", "value": "#8a8a8a"}, "value": "#d0d0d0"}}},
       "y": {"field": "y", "type": "quantitative", "scale": {"domain": [-0.0019, 0.0489], "nice": false, "zero": false}, "axis": {"values": [0,0.005,0.01,0.015,0.02,0.025,0.03,0.035,0.04,0.045], "title": null, "labelExpr": "abs(datum.value*100-round(datum.value*100))<1e-6 ? format(datum.value,'.2f') : ''", "tickSize": {"condition": {"test": "abs(datum.value*100-round(datum.value*100))<1e-6", "value": 13}, "value": 7}, "gridOpacity": {"condition": {"test": "abs(datum.value*100-round(datum.value*100))<1e-6", "value": 1}, "value": 0}}}
     },
     "layer": [
       {"transform": [{"filter": "datum.p=='UAu'"}], "mark": {"type": "point", "shape": "square", "filled": true, "size": 100, "opacity": 1}, "encoding": {"color": {"field": "s", "type": "nominal", "scale": {"domain": ["LT","RT","HT"], "range": ["#3d3d3d","#ee2e2e","#1c64dc"]}, "legend": null}}},
       {"transform": [{"filter": "datum.p=='UAu'"}], "mark": {"type": "line", "strokeWidth": 3}, "encoding": {"x": {"field": "x", "type": "quantitative", "axis": null}, "color": {"field": "s", "type": "nominal", "scale": {"domain": ["LT","RT","HT"], "range": ["#3d3d3d","#ee2e2e","#1c64dc"]}, "legend": null}}},
       {"transform": [{"filter": "datum.p=='UAu'"}, {"aggregate": [{"op": "min", "field": "x", "as": "x"}, {"op": "min", "field": "y", "as": "y"}]}], "mark": {"type": "point", "opacity": 0}, "encoding": {"x": {"field": "x", "type": "quantitative", "axis": {"orient": "top", "title": "Au", "labels": false, "ticks": false, "grid": false, "domain": false, "titleFontSize": 54, "titleColor": "#111", "titleX": 13, "titleY": 66, "titleAlign": "left", "titleBaseline": "alphabetic"}}}}
     ]},
    {"width": 747, "height": 495,
     "resolve": {"axis": {"x": "independent"}},
     "encoding": {
       "x": {"field": "x", "type": "quantitative", "scale": {"type": "log", "domain": [2, 300], "nice": false}, "axis": {"values": [3,4,5,6,7,8,9,10,20,30,40,50,60,70,80,90,100,200], "labelExpr": "datum.value==10||datum.value==100 ? datum.label : ''", "title": "Pore Width (nm)", "tickSize": {"condition": {"test": "datum.value==10||datum.value==100", "value": 14}, "value": 8}, "gridColor": {"condition": {"test": "datum.value==10||datum.value==100", "value": "#8a8a8a"}, "value": "#d0d0d0"}}},
       "y": {"field": "y", "type": "quantitative", "scale": {"domain": [-0.0022, 0.17], "nice": false, "zero": false}, "axis": {"values": [0,0.015,0.03,0.045,0.06,0.075,0.09,0.105,0.12,0.135,0.15,0.165], "title": null, "labelExpr": "abs(datum.value/0.03-round(datum.value/0.03))<1e-6 ? format(datum.value,'.2f') : ''", "tickSize": {"condition": {"test": "abs(datum.value/0.03-round(datum.value/0.03))<1e-6", "value": 13}, "value": 7}, "gridOpacity": {"condition": {"test": "abs(datum.value/0.03-round(datum.value/0.03))<1e-6", "value": 1}, "value": 0}}}
     },
     "layer": [
       {"transform": [{"filter": "datum.p=='NAu'"}], "mark": {"type": "point", "shape": "square", "filled": true, "size": 100, "opacity": 1}, "encoding": {"color": {"field": "s", "type": "nominal", "scale": {"domain": ["LT","RT","HT"], "range": ["#3d3d3d","#ee2e2e","#1c64dc"]}, "legend": null}}},
       {"transform": [{"filter": "datum.p=='NAu'"}], "mark": {"type": "line", "strokeWidth": 3}, "encoding": {"x": {"field": "x", "type": "quantitative", "axis": null}, "color": {"field": "s", "type": "nominal", "scale": {"domain": ["LT","RT","HT"], "range": ["#3d3d3d","#ee2e2e","#1c64dc"]}, "legend": null}}},
       {"transform": [{"filter": "datum.p=='NAu'"}, {"aggregate": [{"op": "min", "field": "x", "as": "x"}, {"op": "min", "field": "y", "as": "y"}]}], "mark": {"type": "point", "opacity": 0}, "encoding": {"x": {"field": "x", "type": "quantitative", "axis": {"orient": "top", "title": "Au", "labels": false, "ticks": false, "grid": false, "domain": false, "titleFontSize": 54, "titleColor": "#111", "titleX": 19, "titleY": 64, "titleAlign": "left", "titleBaseline": "alphabetic"}}}}
     ]}
  ]
}
